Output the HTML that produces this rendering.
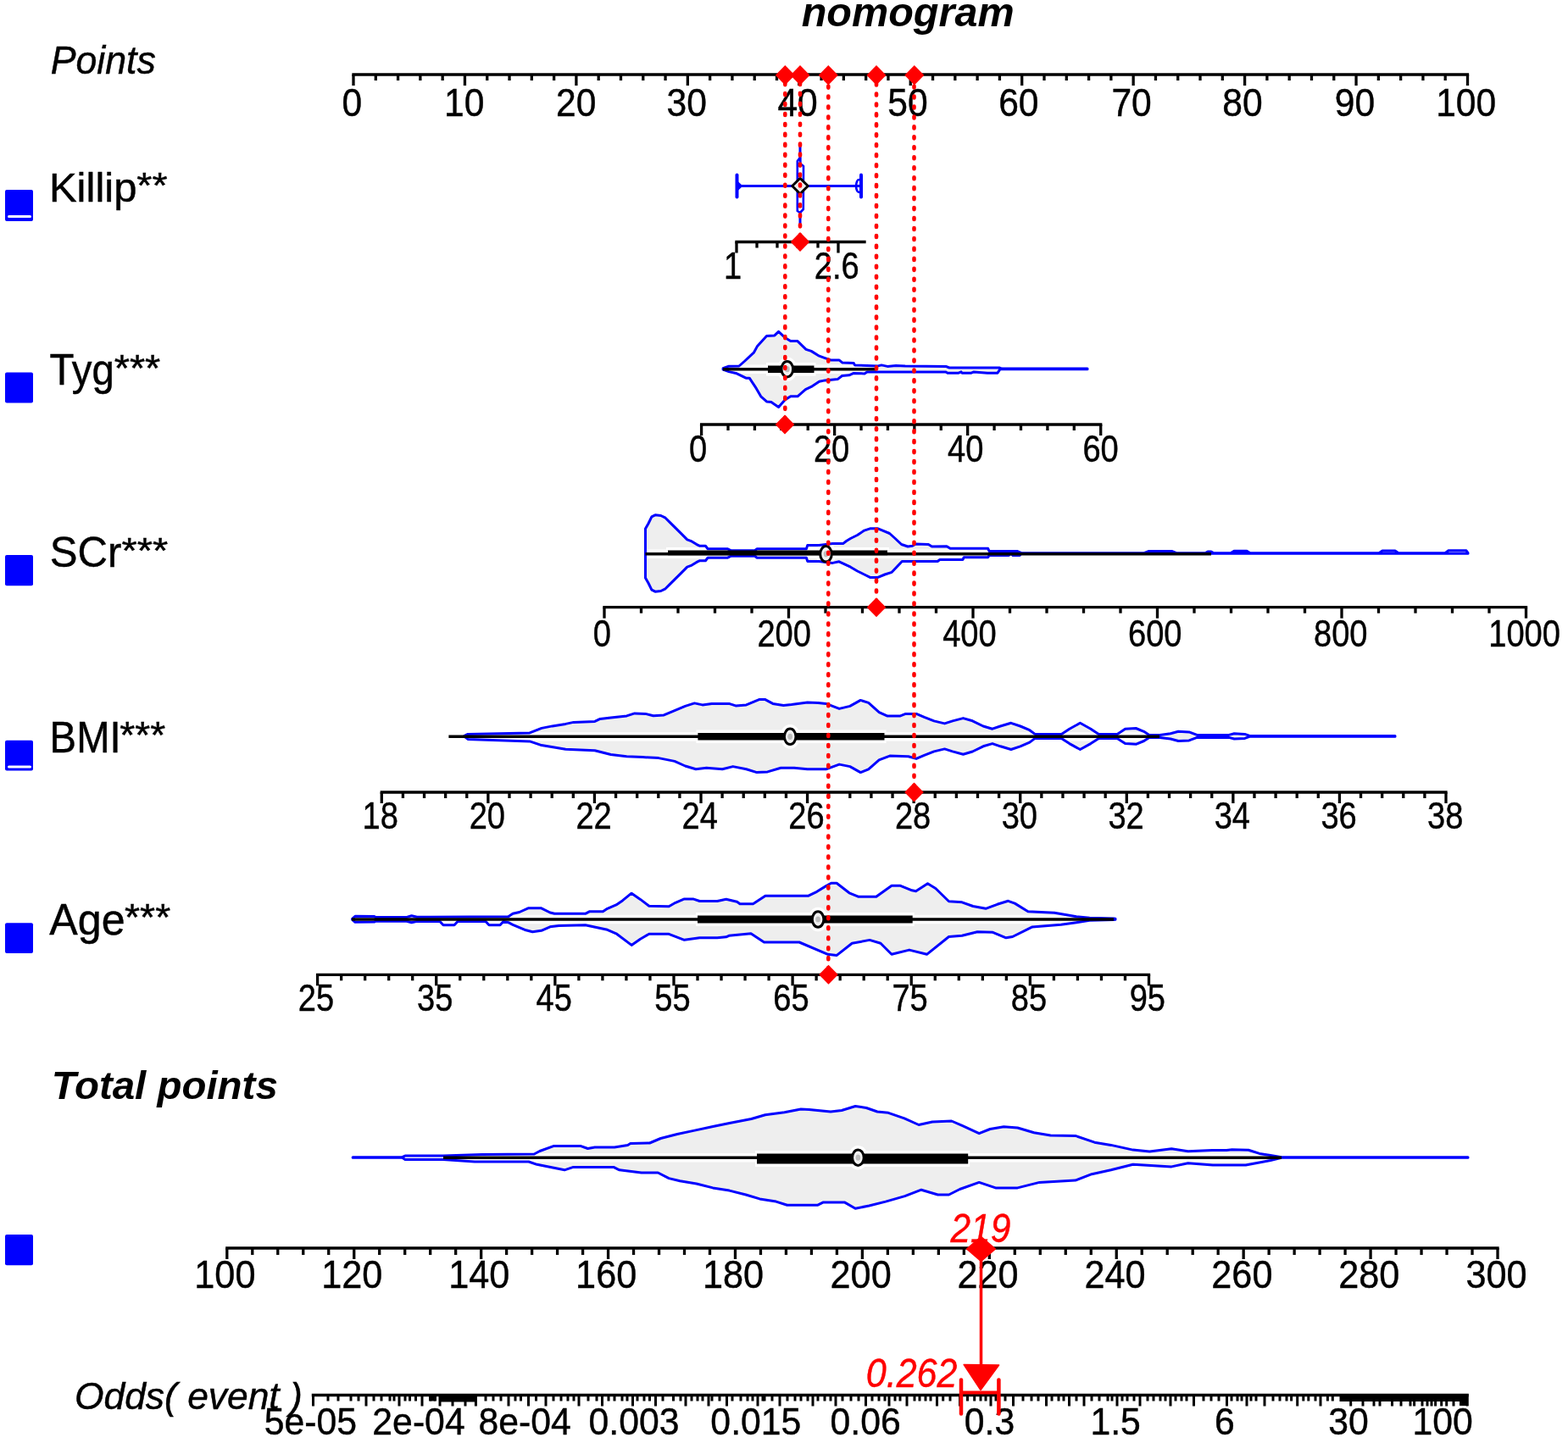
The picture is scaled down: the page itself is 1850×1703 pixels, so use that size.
<!DOCTYPE html>
<html><head><meta charset="utf-8"><title>nomogram</title>
<style>html,body{margin:0;padding:0;background:#fff;overflow:hidden;} svg{display:block;}</style>
</head><body>
<svg width="1850" height="1703" viewBox="0 0 1850 1703" font-family="Liberation Sans, Arial, sans-serif">
<path d="M853.1,434.7 L859.9,432.2 L872,432 L878.8,426 L889.6,415.8 L893.6,408.4 L904.5,396.4 L913.9,395.9 L918.6,391.4 L926.1,398.4 L932.8,402.6 L941,402.6 L951,412.4 L957.2,414.4 L966.6,420.2 L973.4,422.6 L980.1,424.9 L990,424.9 L994,428.1 L1007.2,428.4 L1008.5,430.9 L1036,431.9 L1040,430.9 L1047,432.4 L1057,431.4 L1068,431.9 L1116,432.4 L1120,434 L1179,434 L1182,435.1 L1283,435.1 L1283,435.7 L1180,435.7 L1177,440.2 L1165,440.2 L1149,438.9 L1146,440.2 L1135,440.2 L1134,438.9 L1131,440.2 L1118,440.2 L1116,438.9 L1023,438.9 L1020,440.9 L1007.2,440.4 L1001.8,442.8 L993.6,443.5 L988.2,447.6 L973.4,448.9 L966.6,450.3 L957.2,456.4 L950.4,459.7 L941,467.8 L932.8,467.8 L926.1,471.9 L918.6,480.4 L909.9,474.6 L904.5,473.9 L897.7,467.8 L892.3,458.4 L884.2,446.2 L880.1,446.2 L869.3,440.8 L859.9,438.6 L853.1,436.1 Z" fill="#eeeeee" stroke="none" stroke-width="3" stroke-linejoin="round"/>
<path d="M761.5,653 L761.5,624 L764.9,618 L768.9,609.9 L773,607.8 L779.7,608.5 L785.1,611.2 L790.5,616.6 L797.3,623.4 L804.1,630.1 L810.8,636.9 L816.2,638.9 L821.6,642.3 L825.7,644.3 L832.4,644.3 L835.1,647.7 L858.1,647.7 L862.2,649.7 L890.5,649.7 L893.2,647.7 L951.4,647.7 L952.7,643.6 L966.2,643.6 L982.4,641.6 L994.6,641.6 L998.6,638.5 L1003.5,635.5 L1011.6,631.5 L1019.7,626.1 L1026.5,623.8 L1035.9,623.8 L1041.4,626.1 L1049.5,629.5 L1056.2,635.5 L1063.6,642.5 L1071.1,645 L1076.5,644.3 L1080.5,642 L1095.4,642.5 L1099.5,645 L1117,644.7 L1121.1,647.3 L1165.7,647.3 L1167,650.4 L1200,650.4 L1205,652.7 L1350,652.7 L1355,650.5 L1383,650.5 L1388,652.7 L1422,652.7 L1425,651 L1429,651 L1432,652.7 L1452,652.7 L1456,650.2 L1471,650.2 L1475,652.7 L1627,652.7 L1631,650 L1646,650 L1650,652.7 L1705,652.7 L1709,649.8 L1730,649.8 L1732,652.7 L1732,653.3 L1205,653.3 L1203,655.6 L1195,655.6 L1193,653.3 L1190,655.6 L1167,655.6 L1165.7,657.8 L1137.3,657.8 L1135.9,660.5 L1108.9,660.5 L1106.2,662.5 L1064.3,662.5 L1052.2,675.3 L1044,678 L1035.9,681.4 L1026.5,681.4 L1019.7,678 L1011.6,674 L1003.5,669.2 L990,662.8 L982.4,664.4 L966.2,662.4 L952.7,662.4 L951.4,658.3 L893.2,658.3 L890.5,656.3 L862.2,656.3 L858.1,658.3 L835.1,658.3 L832.4,661.7 L825.7,661.7 L821.6,663.7 L816.2,667.1 L810.8,669.1 L804.1,675.9 L797.3,682.6 L790.5,689.4 L785.1,694.8 L779.7,697.5 L773,698.2 L768.9,696.1 L764.9,688 L761.5,682 L761.5,653 Z" fill="#eeeeee" stroke="none" stroke-width="3" stroke-linejoin="round"/>
<path d="M548,868.4 L552,866.4 L625,864.9 L639,859.4 L651.7,856.9 L667.3,854.4 L676.7,852.4 L701.8,851.4 L708,848.4 L720.6,846.9 L739.4,844.9 L748.8,841.9 L761.4,842.4 L770.8,844.7 L783.3,843.9 L795.9,838.6 L808.4,833.4 L819.4,829.9 L828.8,831.9 L839.7,830.4 L860.1,830.4 L868,832.9 L880.5,831.9 L896.2,825.4 L902.4,825.4 L911.8,830.4 L924.4,832.4 L933.8,831.4 L952.6,828.9 L965.1,829.4 L974.5,830.4 L990.2,836.4 L1002.8,833.4 L1015.3,826.4 L1024.7,829.4 L1037.2,840.6 L1046.6,844.9 L1062.3,844.9 L1068.6,842.4 L1081.1,842.4 L1090.5,846.4 L1102,850.9 L1114.5,853.9 L1123.9,850.9 L1136.4,847.6 L1147.4,850.8 L1160,857 L1170.9,860.2 L1180.3,857 L1192.9,853.3 L1203.8,857 L1214.8,861.7 L1221.1,866.4 L1252.4,866.4 L1261.8,860.2 L1274.4,853.3 L1286.9,860.2 L1296.3,866.4 L1318.2,866.4 L1327.6,860.2 L1340.2,859.5 L1349.6,863.3 L1355.9,867.4 L1368.4,867.4 L1381,865.8 L1390.3,863.3 L1402.9,863.9 L1412.3,867.4 L1449.9,867.4 L1456.2,865.8 L1468.7,866.4 L1475,868.6 L1646,868.6 L1646,869.2 L1475,869.2 L1468.7,871.4 L1456.2,872 L1449.9,870.4 L1412.3,870.4 L1402.9,873.9 L1390.3,874.5 L1381,872 L1368.4,870.4 L1355.9,870.4 L1349.6,874.5 L1340.2,878.3 L1327.6,877.6 L1318.2,871.4 L1296.3,871.4 L1286.9,877.6 L1274.4,884.5 L1261.8,877.6 L1252.4,871.4 L1221.1,871.4 L1214.8,876.1 L1203.8,880.8 L1192.9,884.5 L1180.3,880.8 L1170.9,877.6 L1160,880.8 L1147.4,887 L1136.4,890.2 L1123.9,886.9 L1114.5,883.9 L1102,886.9 L1090.5,891.4 L1081.1,895.4 L1071.7,892.7 L1049.8,892.1 L1037.2,896.8 L1024.7,907.8 L1015.3,911.6 L1002.8,904.6 L990.2,902.1 L974.5,907.8 L952.6,907.8 L937,906.2 L921.3,906.2 L905.6,910.9 L893,911.6 L880.5,907.8 L864.8,904.6 L852.3,907.8 L833.5,906.2 L821,907.8 L808.4,904 L795.9,898.4 L777,894.6 L758.2,893.6 L739.4,892.7 L720.6,890.5 L701.8,885.8 L667.3,884.3 L639,879.6 L625,874.9 L552,872.4 L548,869.4 Z" fill="#eeeeee" stroke="none" stroke-width="3" stroke-linejoin="round"/>
<path d="M415.6,1084.3 L419,1081.3 L441.5,1081.5 L443,1082.4 L480,1082.4 L485.6,1080.8 L492,1082.2 L599.8,1081.8 L605,1078.3 L612.8,1076.5 L623.1,1071.8 L638.7,1071.8 L649,1077 L654.3,1078.3 L690.6,1078.3 L695.8,1075.7 L711.4,1075.7 L716.6,1072.3 L727,1067.9 L734.7,1062.7 L745.1,1054.2 L755.5,1061.4 L765.8,1069.2 L789.2,1069.7 L797,1065.3 L807.4,1060.9 L817.7,1060.9 L825.5,1063.5 L846.3,1063.5 L856.7,1061.3 L869.6,1064.3 L873,1066.8 L888.5,1066.8 L903,1057.3 L953.4,1057.3 L963.8,1052.3 L974.2,1045.9 L980.7,1042.3 L987.1,1042.3 L1002,1053.8 L1013.1,1058.3 L1033.8,1058.3 L1052,1045.3 L1062.4,1045.3 L1076,1050.8 L1080.6,1051.8 L1094.5,1042.8 L1103.9,1048.5 L1119.5,1063.8 L1135,1064.8 L1148,1069.5 L1163,1072.3 L1176.6,1067.3 L1189.5,1063.3 L1197.3,1066.1 L1212.9,1075.7 L1244,1077.3 L1257,1079.6 L1270,1081.8 L1285.5,1083.3 L1314,1084 L1316,1084.3 L1316,1085.3 L1314,1085.6 L1285.5,1086.3 L1270,1088.7 L1251.8,1091.3 L1218,1093.9 L1194.7,1105.5 L1187,1106.8 L1171.4,1100.3 L1153.2,1099.8 L1135,1104.3 L1119.5,1105.5 L1093.5,1126.3 L1072.8,1121.1 L1052,1126.3 L1039,1113.3 L1026,1109.4 L1005.3,1113.3 L987,1127.6 L976.8,1126.3 L943,1112 L901.5,1112 L886,1101.7 L860,1104.3 L856.7,1105.8 L846.3,1106.8 L825.5,1106.8 L807.4,1109.3 L797,1105.3 L789.2,1102.3 L765.8,1102.3 L755.5,1108.2 L745.1,1115.4 L727,1101.8 L716.6,1097.3 L690.6,1091.8 L659.5,1092.6 L649,1093.8 L638.7,1098.3 L628.3,1099.8 L620.5,1097.8 L605,1091.3 L599.8,1088.7 L594,1087.4 L590,1091.8 L577,1091.8 L573,1087.4 L540,1087.4 L536,1091.8 L523,1091.8 L519,1087.4 L492,1087.4 L485.6,1088.8 L480,1087.2 L443,1087.2 L441.5,1088.1 L419,1088.3 L415.6,1085.3 Z" fill="#eeeeee" stroke="none" stroke-width="3" stroke-linejoin="round"/>
<path d="M416.2,1365.7 L474.6,1365.7 L478,1364 L523,1364 L568.7,1362.5 L630.3,1362 L636.8,1358.5 L653,1352.6 L685.4,1352.6 L693.5,1355.5 L701.7,1354 L725,1354 L740.6,1351.5 L743.8,1349.5 L766.5,1349 L779.5,1343.5 L799,1338.5 L818.4,1334.4 L841.1,1329.5 L860.6,1325.5 L886.5,1320.5 L902.8,1315.7 L925.5,1312.7 L944.9,1309 L954.7,1309.5 L980,1312 L993,1310.5 L1009.2,1305.5 L1022.2,1307.5 L1035.1,1312 L1048.1,1313.3 L1067,1319.8 L1084,1327.5 L1100,1324 L1122.7,1323 L1135.7,1328.7 L1155.2,1337.7 L1168.1,1332.5 L1184.3,1329.8 L1200.6,1331 L1220,1336.8 L1239.5,1340 L1268.7,1340.4 L1291.4,1348.2 L1310.8,1351.4 L1336.8,1357.1 L1356.3,1359 L1382.2,1355.8 L1401.7,1358.7 L1430,1357.5 L1447.1,1357.5 L1453.6,1356.8 L1473,1357.2 L1486,1361.4 L1499,1363.6 L1512,1365.7 L1732,1365.7 L1732,1366.3 L1512,1366.3 L1499,1369.5 L1469.8,1375 L1430.9,1375 L1401.7,1372.7 L1382.2,1376.9 L1336.8,1374.3 L1310.8,1380.8 L1288.1,1385.7 L1268.7,1393.1 L1226.5,1395.4 L1200.6,1401.9 L1174.6,1401.9 L1155.2,1395.4 L1132.4,1403.5 L1119.5,1410 L1106.5,1410 L1087,1404.2 L1067.6,1411.6 L1044.9,1418.1 L1025.4,1423 L1009.2,1426.2 L996.8,1419.1 L970.9,1419.1 L964.4,1422.3 L928.7,1422.3 L915.7,1418.1 L896.3,1414.9 L880,1410 L860.6,1405.1 L841.1,1401.9 L821.7,1397 L802.2,1393.8 L789.2,1390.6 L776.3,1384 L756.8,1384 L730.8,1380.8 L724.4,1377.6 L675.7,1377.6 L666,1380.8 L633.5,1374.3 L623.8,1371 L581.6,1371 L560,1371 L523,1368.5 L478,1368.5 L474.6,1366.3 L416.2,1366.3 Z" fill="#eeeeee" stroke="none" stroke-width="3" stroke-linejoin="round"/>
<line x1="853" y1="435.7" x2="1034" y2="435.7" stroke="#fff" stroke-width="10.6" stroke-linecap="butt" />
<line x1="904" y1="435.7" x2="962.5" y2="435.7" stroke="#fff" stroke-width="15.6" stroke-linecap="butt" />
<ellipse cx="928.8" cy="435.7" rx="6.8" ry="9.2" fill="#fff" stroke="#fff" stroke-width="10.0"/>
<line x1="761.5" y1="653.8" x2="1429" y2="653.8" stroke="#fff" stroke-width="10.6" stroke-linecap="butt" />
<line x1="786" y1="652.4" x2="1049" y2="652.4" stroke="#fff" stroke-width="12.6" stroke-linecap="butt" />
<ellipse cx="974.5" cy="653.8" rx="6.8" ry="9.2" fill="#fff" stroke="#fff" stroke-width="10.0"/>
<line x1="529.4" y1="869.3" x2="1368" y2="869.3" stroke="#fff" stroke-width="10.6" stroke-linecap="butt" />
<line x1="821.4" y1="869.3" x2="1045.5" y2="869.3" stroke="#fff" stroke-width="15.6" stroke-linecap="butt" />
<ellipse cx="932.2" cy="869.3" rx="6.8" ry="9.2" fill="#fff" stroke="#fff" stroke-width="10.0"/>
<line x1="415" y1="1085" x2="1314" y2="1085" stroke="#fff" stroke-width="10.6" stroke-linecap="butt" />
<line x1="821" y1="1085" x2="1078.7" y2="1085" stroke="#fff" stroke-width="15.8" stroke-linecap="butt" />
<ellipse cx="965.1" cy="1085" rx="6.8" ry="9.2" fill="#fff" stroke="#fff" stroke-width="10.0"/>
<line x1="523" y1="1366.2" x2="1512" y2="1366.2" stroke="#fff" stroke-width="10.6" stroke-linecap="butt" />
<line x1="891" y1="1367.4" x2="1144.2" y2="1367.4" stroke="#fff" stroke-width="19.0" stroke-linecap="butt" />
<ellipse cx="1012.4" cy="1366.2" rx="6.8" ry="9.2" fill="#fff" stroke="#fff" stroke-width="10.0"/>
<path d="M853.1,434.7 L859.9,432.2 L872,432 L878.8,426 L889.6,415.8 L893.6,408.4 L904.5,396.4 L913.9,395.9 L918.6,391.4 L926.1,398.4 L932.8,402.6 L941,402.6 L951,412.4 L957.2,414.4 L966.6,420.2 L973.4,422.6 L980.1,424.9 L990,424.9 L994,428.1 L1007.2,428.4 L1008.5,430.9 L1036,431.9 L1040,430.9 L1047,432.4 L1057,431.4 L1068,431.9 L1116,432.4 L1120,434 L1179,434 L1182,435.1 L1283,435.1 L1283,435.7 L1180,435.7 L1177,440.2 L1165,440.2 L1149,438.9 L1146,440.2 L1135,440.2 L1134,438.9 L1131,440.2 L1118,440.2 L1116,438.9 L1023,438.9 L1020,440.9 L1007.2,440.4 L1001.8,442.8 L993.6,443.5 L988.2,447.6 L973.4,448.9 L966.6,450.3 L957.2,456.4 L950.4,459.7 L941,467.8 L932.8,467.8 L926.1,471.9 L918.6,480.4 L909.9,474.6 L904.5,473.9 L897.7,467.8 L892.3,458.4 L884.2,446.2 L880.1,446.2 L869.3,440.8 L859.9,438.6 L853.1,436.1 Z" fill="none" stroke="#0000ff" stroke-width="3" stroke-linejoin="round"/>
<path d="M761.5,653 L761.5,624 L764.9,618 L768.9,609.9 L773,607.8 L779.7,608.5 L785.1,611.2 L790.5,616.6 L797.3,623.4 L804.1,630.1 L810.8,636.9 L816.2,638.9 L821.6,642.3 L825.7,644.3 L832.4,644.3 L835.1,647.7 L858.1,647.7 L862.2,649.7 L890.5,649.7 L893.2,647.7 L951.4,647.7 L952.7,643.6 L966.2,643.6 L982.4,641.6 L994.6,641.6 L998.6,638.5 L1003.5,635.5 L1011.6,631.5 L1019.7,626.1 L1026.5,623.8 L1035.9,623.8 L1041.4,626.1 L1049.5,629.5 L1056.2,635.5 L1063.6,642.5 L1071.1,645 L1076.5,644.3 L1080.5,642 L1095.4,642.5 L1099.5,645 L1117,644.7 L1121.1,647.3 L1165.7,647.3 L1167,650.4 L1200,650.4 L1205,652.7 L1350,652.7 L1355,650.5 L1383,650.5 L1388,652.7 L1422,652.7 L1425,651 L1429,651 L1432,652.7 L1452,652.7 L1456,650.2 L1471,650.2 L1475,652.7 L1627,652.7 L1631,650 L1646,650 L1650,652.7 L1705,652.7 L1709,649.8 L1730,649.8 L1732,652.7 L1732,653.3 L1205,653.3 L1203,655.6 L1195,655.6 L1193,653.3 L1190,655.6 L1167,655.6 L1165.7,657.8 L1137.3,657.8 L1135.9,660.5 L1108.9,660.5 L1106.2,662.5 L1064.3,662.5 L1052.2,675.3 L1044,678 L1035.9,681.4 L1026.5,681.4 L1019.7,678 L1011.6,674 L1003.5,669.2 L990,662.8 L982.4,664.4 L966.2,662.4 L952.7,662.4 L951.4,658.3 L893.2,658.3 L890.5,656.3 L862.2,656.3 L858.1,658.3 L835.1,658.3 L832.4,661.7 L825.7,661.7 L821.6,663.7 L816.2,667.1 L810.8,669.1 L804.1,675.9 L797.3,682.6 L790.5,689.4 L785.1,694.8 L779.7,697.5 L773,698.2 L768.9,696.1 L764.9,688 L761.5,682 L761.5,653 Z" fill="none" stroke="#0000ff" stroke-width="3" stroke-linejoin="round"/>
<path d="M548,868.4 L552,866.4 L625,864.9 L639,859.4 L651.7,856.9 L667.3,854.4 L676.7,852.4 L701.8,851.4 L708,848.4 L720.6,846.9 L739.4,844.9 L748.8,841.9 L761.4,842.4 L770.8,844.7 L783.3,843.9 L795.9,838.6 L808.4,833.4 L819.4,829.9 L828.8,831.9 L839.7,830.4 L860.1,830.4 L868,832.9 L880.5,831.9 L896.2,825.4 L902.4,825.4 L911.8,830.4 L924.4,832.4 L933.8,831.4 L952.6,828.9 L965.1,829.4 L974.5,830.4 L990.2,836.4 L1002.8,833.4 L1015.3,826.4 L1024.7,829.4 L1037.2,840.6 L1046.6,844.9 L1062.3,844.9 L1068.6,842.4 L1081.1,842.4 L1090.5,846.4 L1102,850.9 L1114.5,853.9 L1123.9,850.9 L1136.4,847.6 L1147.4,850.8 L1160,857 L1170.9,860.2 L1180.3,857 L1192.9,853.3 L1203.8,857 L1214.8,861.7 L1221.1,866.4 L1252.4,866.4 L1261.8,860.2 L1274.4,853.3 L1286.9,860.2 L1296.3,866.4 L1318.2,866.4 L1327.6,860.2 L1340.2,859.5 L1349.6,863.3 L1355.9,867.4 L1368.4,867.4 L1381,865.8 L1390.3,863.3 L1402.9,863.9 L1412.3,867.4 L1449.9,867.4 L1456.2,865.8 L1468.7,866.4 L1475,868.6 L1646,868.6 L1646,869.2 L1475,869.2 L1468.7,871.4 L1456.2,872 L1449.9,870.4 L1412.3,870.4 L1402.9,873.9 L1390.3,874.5 L1381,872 L1368.4,870.4 L1355.9,870.4 L1349.6,874.5 L1340.2,878.3 L1327.6,877.6 L1318.2,871.4 L1296.3,871.4 L1286.9,877.6 L1274.4,884.5 L1261.8,877.6 L1252.4,871.4 L1221.1,871.4 L1214.8,876.1 L1203.8,880.8 L1192.9,884.5 L1180.3,880.8 L1170.9,877.6 L1160,880.8 L1147.4,887 L1136.4,890.2 L1123.9,886.9 L1114.5,883.9 L1102,886.9 L1090.5,891.4 L1081.1,895.4 L1071.7,892.7 L1049.8,892.1 L1037.2,896.8 L1024.7,907.8 L1015.3,911.6 L1002.8,904.6 L990.2,902.1 L974.5,907.8 L952.6,907.8 L937,906.2 L921.3,906.2 L905.6,910.9 L893,911.6 L880.5,907.8 L864.8,904.6 L852.3,907.8 L833.5,906.2 L821,907.8 L808.4,904 L795.9,898.4 L777,894.6 L758.2,893.6 L739.4,892.7 L720.6,890.5 L701.8,885.8 L667.3,884.3 L639,879.6 L625,874.9 L552,872.4 L548,869.4 Z" fill="none" stroke="#0000ff" stroke-width="3" stroke-linejoin="round"/>
<path d="M415.6,1084.3 L419,1081.3 L441.5,1081.5 L443,1082.4 L480,1082.4 L485.6,1080.8 L492,1082.2 L599.8,1081.8 L605,1078.3 L612.8,1076.5 L623.1,1071.8 L638.7,1071.8 L649,1077 L654.3,1078.3 L690.6,1078.3 L695.8,1075.7 L711.4,1075.7 L716.6,1072.3 L727,1067.9 L734.7,1062.7 L745.1,1054.2 L755.5,1061.4 L765.8,1069.2 L789.2,1069.7 L797,1065.3 L807.4,1060.9 L817.7,1060.9 L825.5,1063.5 L846.3,1063.5 L856.7,1061.3 L869.6,1064.3 L873,1066.8 L888.5,1066.8 L903,1057.3 L953.4,1057.3 L963.8,1052.3 L974.2,1045.9 L980.7,1042.3 L987.1,1042.3 L1002,1053.8 L1013.1,1058.3 L1033.8,1058.3 L1052,1045.3 L1062.4,1045.3 L1076,1050.8 L1080.6,1051.8 L1094.5,1042.8 L1103.9,1048.5 L1119.5,1063.8 L1135,1064.8 L1148,1069.5 L1163,1072.3 L1176.6,1067.3 L1189.5,1063.3 L1197.3,1066.1 L1212.9,1075.7 L1244,1077.3 L1257,1079.6 L1270,1081.8 L1285.5,1083.3 L1314,1084 L1316,1084.3 L1316,1085.3 L1314,1085.6 L1285.5,1086.3 L1270,1088.7 L1251.8,1091.3 L1218,1093.9 L1194.7,1105.5 L1187,1106.8 L1171.4,1100.3 L1153.2,1099.8 L1135,1104.3 L1119.5,1105.5 L1093.5,1126.3 L1072.8,1121.1 L1052,1126.3 L1039,1113.3 L1026,1109.4 L1005.3,1113.3 L987,1127.6 L976.8,1126.3 L943,1112 L901.5,1112 L886,1101.7 L860,1104.3 L856.7,1105.8 L846.3,1106.8 L825.5,1106.8 L807.4,1109.3 L797,1105.3 L789.2,1102.3 L765.8,1102.3 L755.5,1108.2 L745.1,1115.4 L727,1101.8 L716.6,1097.3 L690.6,1091.8 L659.5,1092.6 L649,1093.8 L638.7,1098.3 L628.3,1099.8 L620.5,1097.8 L605,1091.3 L599.8,1088.7 L594,1087.4 L590,1091.8 L577,1091.8 L573,1087.4 L540,1087.4 L536,1091.8 L523,1091.8 L519,1087.4 L492,1087.4 L485.6,1088.8 L480,1087.2 L443,1087.2 L441.5,1088.1 L419,1088.3 L415.6,1085.3 Z" fill="none" stroke="#0000ff" stroke-width="3" stroke-linejoin="round"/>
<path d="M416.2,1365.7 L474.6,1365.7 L478,1364 L523,1364 L568.7,1362.5 L630.3,1362 L636.8,1358.5 L653,1352.6 L685.4,1352.6 L693.5,1355.5 L701.7,1354 L725,1354 L740.6,1351.5 L743.8,1349.5 L766.5,1349 L779.5,1343.5 L799,1338.5 L818.4,1334.4 L841.1,1329.5 L860.6,1325.5 L886.5,1320.5 L902.8,1315.7 L925.5,1312.7 L944.9,1309 L954.7,1309.5 L980,1312 L993,1310.5 L1009.2,1305.5 L1022.2,1307.5 L1035.1,1312 L1048.1,1313.3 L1067,1319.8 L1084,1327.5 L1100,1324 L1122.7,1323 L1135.7,1328.7 L1155.2,1337.7 L1168.1,1332.5 L1184.3,1329.8 L1200.6,1331 L1220,1336.8 L1239.5,1340 L1268.7,1340.4 L1291.4,1348.2 L1310.8,1351.4 L1336.8,1357.1 L1356.3,1359 L1382.2,1355.8 L1401.7,1358.7 L1430,1357.5 L1447.1,1357.5 L1453.6,1356.8 L1473,1357.2 L1486,1361.4 L1499,1363.6 L1512,1365.7 L1732,1365.7 L1732,1366.3 L1512,1366.3 L1499,1369.5 L1469.8,1375 L1430.9,1375 L1401.7,1372.7 L1382.2,1376.9 L1336.8,1374.3 L1310.8,1380.8 L1288.1,1385.7 L1268.7,1393.1 L1226.5,1395.4 L1200.6,1401.9 L1174.6,1401.9 L1155.2,1395.4 L1132.4,1403.5 L1119.5,1410 L1106.5,1410 L1087,1404.2 L1067.6,1411.6 L1044.9,1418.1 L1025.4,1423 L1009.2,1426.2 L996.8,1419.1 L970.9,1419.1 L964.4,1422.3 L928.7,1422.3 L915.7,1418.1 L896.3,1414.9 L880,1410 L860.6,1405.1 L841.1,1401.9 L821.7,1397 L802.2,1393.8 L789.2,1390.6 L776.3,1384 L756.8,1384 L730.8,1380.8 L724.4,1377.6 L675.7,1377.6 L666,1380.8 L633.5,1374.3 L623.8,1371 L581.6,1371 L560,1371 L523,1368.5 L478,1368.5 L474.6,1366.3 L416.2,1366.3 Z" fill="none" stroke="#0000ff" stroke-width="3" stroke-linejoin="round"/>
<line x1="853" y1="435.7" x2="1034" y2="435.7" stroke="#000" stroke-width="3.6" stroke-linecap="butt" />
<line x1="906" y1="435.7" x2="960.5" y2="435.7" stroke="#000" stroke-width="8.6" stroke-linecap="butt" />
<ellipse cx="928.8" cy="435.7" rx="6.8" ry="9.2" fill="#f2f2f2" stroke="#000" stroke-width="3"/>
<ellipse cx="928.8" cy="435.7" rx="2.8" ry="3.6" fill="#bdbdbd"/>
<line x1="761.5" y1="653.8" x2="1429" y2="653.8" stroke="#000" stroke-width="3.6" stroke-linecap="butt" />
<line x1="788" y1="652.4" x2="1047" y2="652.4" stroke="#000" stroke-width="5.6" stroke-linecap="butt" />
<ellipse cx="974.5" cy="653.8" rx="6.8" ry="9.2" fill="#f2f2f2" stroke="#000" stroke-width="3"/>
<ellipse cx="974.5" cy="653.8" rx="2.8" ry="3.6" fill="#bdbdbd"/>
<line x1="529.4" y1="869.3" x2="1368" y2="869.3" stroke="#000" stroke-width="3.6" stroke-linecap="butt" />
<line x1="823.4" y1="869.3" x2="1043.5" y2="869.3" stroke="#000" stroke-width="8.6" stroke-linecap="butt" />
<ellipse cx="932.2" cy="869.3" rx="6.8" ry="9.2" fill="#f2f2f2" stroke="#000" stroke-width="3"/>
<ellipse cx="932.2" cy="869.3" rx="2.8" ry="3.6" fill="#bdbdbd"/>
<line x1="415" y1="1085" x2="1314" y2="1085" stroke="#000" stroke-width="3.6" stroke-linecap="butt" />
<line x1="823" y1="1085" x2="1076.7" y2="1085" stroke="#000" stroke-width="8.8" stroke-linecap="butt" />
<ellipse cx="965.1" cy="1085" rx="6.8" ry="9.2" fill="#f2f2f2" stroke="#000" stroke-width="3"/>
<ellipse cx="965.1" cy="1085" rx="2.8" ry="3.6" fill="#bdbdbd"/>
<line x1="523" y1="1366.2" x2="1512" y2="1366.2" stroke="#000" stroke-width="3.6" stroke-linecap="butt" />
<line x1="893" y1="1367.4" x2="1142.2" y2="1367.4" stroke="#000" stroke-width="12" stroke-linecap="butt" />
<ellipse cx="1012.4" cy="1366.2" rx="6.8" ry="9.2" fill="#f2f2f2" stroke="#000" stroke-width="3"/>
<ellipse cx="1012.4" cy="1366.2" rx="2.8" ry="3.6" fill="#bdbdbd"/>
<line x1="869" y1="219.5" x2="1016" y2="219.5" stroke="#0000ff" stroke-width="3" stroke-linecap="butt" />
<line x1="869.5" y1="206.5" x2="869.5" y2="232.5" stroke="#0000ff" stroke-width="4" stroke-linecap="round" />
<path d="M869,212.5 L876.5,219.5 L869,226.5 Z" fill="#0000ff" stroke="none" stroke-width="3" stroke-linejoin="round"/>
<line x1="1016" y1="206.5" x2="1016" y2="232.5" stroke="#0000ff" stroke-width="4" stroke-linecap="round" />
<ellipse cx="1013.3" cy="219.5" rx="3.2" ry="7.5" fill="none" stroke="#0000ff" stroke-width="2.6"/>
<line x1="944" y1="172" x2="944" y2="264" stroke="#0000ff" stroke-width="3" stroke-linecap="butt" />
<path d="M944,186 L940.8,190 L940.8,249 L944,251 L947.8,247 L948,196 L944,193 Z" fill="#ffffff" stroke="#0000ff" stroke-width="2.6" stroke-linejoin="round"/>
<path d="M944,210.2 L953.3,219.5 L944,228.8 L934.7,219.5 Z" fill="#ececec" stroke="#000" stroke-width="3" stroke-linejoin="round"/>
<line x1="417" y1="88" x2="1731.5" y2="88" stroke="#000" stroke-width="3.3" stroke-linecap="square" />
<line x1="417" y1="88" x2="417" y2="101" stroke="#000" stroke-width="3.3" stroke-linecap="butt" />
<line x1="443.29" y1="88" x2="443.29" y2="95" stroke="#000" stroke-width="3.3" stroke-linecap="butt" />
<line x1="469.58" y1="88" x2="469.58" y2="95" stroke="#000" stroke-width="3.3" stroke-linecap="butt" />
<line x1="495.87" y1="88" x2="495.87" y2="95" stroke="#000" stroke-width="3.3" stroke-linecap="butt" />
<line x1="522.16" y1="88" x2="522.16" y2="95" stroke="#000" stroke-width="3.3" stroke-linecap="butt" />
<line x1="548.45" y1="88" x2="548.45" y2="101" stroke="#000" stroke-width="3.3" stroke-linecap="butt" />
<line x1="574.74" y1="88" x2="574.74" y2="95" stroke="#000" stroke-width="3.3" stroke-linecap="butt" />
<line x1="601.03" y1="88" x2="601.03" y2="95" stroke="#000" stroke-width="3.3" stroke-linecap="butt" />
<line x1="627.32" y1="88" x2="627.32" y2="95" stroke="#000" stroke-width="3.3" stroke-linecap="butt" />
<line x1="653.61" y1="88" x2="653.61" y2="95" stroke="#000" stroke-width="3.3" stroke-linecap="butt" />
<line x1="679.9" y1="88" x2="679.9" y2="101" stroke="#000" stroke-width="3.3" stroke-linecap="butt" />
<line x1="706.19" y1="88" x2="706.19" y2="95" stroke="#000" stroke-width="3.3" stroke-linecap="butt" />
<line x1="732.48" y1="88" x2="732.48" y2="95" stroke="#000" stroke-width="3.3" stroke-linecap="butt" />
<line x1="758.77" y1="88" x2="758.77" y2="95" stroke="#000" stroke-width="3.3" stroke-linecap="butt" />
<line x1="785.06" y1="88" x2="785.06" y2="95" stroke="#000" stroke-width="3.3" stroke-linecap="butt" />
<line x1="811.35" y1="88" x2="811.35" y2="101" stroke="#000" stroke-width="3.3" stroke-linecap="butt" />
<line x1="837.64" y1="88" x2="837.64" y2="95" stroke="#000" stroke-width="3.3" stroke-linecap="butt" />
<line x1="863.93" y1="88" x2="863.93" y2="95" stroke="#000" stroke-width="3.3" stroke-linecap="butt" />
<line x1="890.22" y1="88" x2="890.22" y2="95" stroke="#000" stroke-width="3.3" stroke-linecap="butt" />
<line x1="916.51" y1="88" x2="916.51" y2="95" stroke="#000" stroke-width="3.3" stroke-linecap="butt" />
<line x1="942.8" y1="88" x2="942.8" y2="101" stroke="#000" stroke-width="3.3" stroke-linecap="butt" />
<line x1="969.09" y1="88" x2="969.09" y2="95" stroke="#000" stroke-width="3.3" stroke-linecap="butt" />
<line x1="995.38" y1="88" x2="995.38" y2="95" stroke="#000" stroke-width="3.3" stroke-linecap="butt" />
<line x1="1021.67" y1="88" x2="1021.67" y2="95" stroke="#000" stroke-width="3.3" stroke-linecap="butt" />
<line x1="1047.96" y1="88" x2="1047.96" y2="95" stroke="#000" stroke-width="3.3" stroke-linecap="butt" />
<line x1="1074.25" y1="88" x2="1074.25" y2="101" stroke="#000" stroke-width="3.3" stroke-linecap="butt" />
<line x1="1100.54" y1="88" x2="1100.54" y2="95" stroke="#000" stroke-width="3.3" stroke-linecap="butt" />
<line x1="1126.83" y1="88" x2="1126.83" y2="95" stroke="#000" stroke-width="3.3" stroke-linecap="butt" />
<line x1="1153.12" y1="88" x2="1153.12" y2="95" stroke="#000" stroke-width="3.3" stroke-linecap="butt" />
<line x1="1179.41" y1="88" x2="1179.41" y2="95" stroke="#000" stroke-width="3.3" stroke-linecap="butt" />
<line x1="1205.7" y1="88" x2="1205.7" y2="101" stroke="#000" stroke-width="3.3" stroke-linecap="butt" />
<line x1="1231.99" y1="88" x2="1231.99" y2="95" stroke="#000" stroke-width="3.3" stroke-linecap="butt" />
<line x1="1258.28" y1="88" x2="1258.28" y2="95" stroke="#000" stroke-width="3.3" stroke-linecap="butt" />
<line x1="1284.57" y1="88" x2="1284.57" y2="95" stroke="#000" stroke-width="3.3" stroke-linecap="butt" />
<line x1="1310.86" y1="88" x2="1310.86" y2="95" stroke="#000" stroke-width="3.3" stroke-linecap="butt" />
<line x1="1337.15" y1="88" x2="1337.15" y2="101" stroke="#000" stroke-width="3.3" stroke-linecap="butt" />
<line x1="1363.44" y1="88" x2="1363.44" y2="95" stroke="#000" stroke-width="3.3" stroke-linecap="butt" />
<line x1="1389.73" y1="88" x2="1389.73" y2="95" stroke="#000" stroke-width="3.3" stroke-linecap="butt" />
<line x1="1416.02" y1="88" x2="1416.02" y2="95" stroke="#000" stroke-width="3.3" stroke-linecap="butt" />
<line x1="1442.31" y1="88" x2="1442.31" y2="95" stroke="#000" stroke-width="3.3" stroke-linecap="butt" />
<line x1="1468.6" y1="88" x2="1468.6" y2="101" stroke="#000" stroke-width="3.3" stroke-linecap="butt" />
<line x1="1494.89" y1="88" x2="1494.89" y2="95" stroke="#000" stroke-width="3.3" stroke-linecap="butt" />
<line x1="1521.18" y1="88" x2="1521.18" y2="95" stroke="#000" stroke-width="3.3" stroke-linecap="butt" />
<line x1="1547.47" y1="88" x2="1547.47" y2="95" stroke="#000" stroke-width="3.3" stroke-linecap="butt" />
<line x1="1573.76" y1="88" x2="1573.76" y2="95" stroke="#000" stroke-width="3.3" stroke-linecap="butt" />
<line x1="1600.05" y1="88" x2="1600.05" y2="101" stroke="#000" stroke-width="3.3" stroke-linecap="butt" />
<line x1="1626.34" y1="88" x2="1626.34" y2="95" stroke="#000" stroke-width="3.3" stroke-linecap="butt" />
<line x1="1652.63" y1="88" x2="1652.63" y2="95" stroke="#000" stroke-width="3.3" stroke-linecap="butt" />
<line x1="1678.92" y1="88" x2="1678.92" y2="95" stroke="#000" stroke-width="3.3" stroke-linecap="butt" />
<line x1="1705.21" y1="88" x2="1705.21" y2="95" stroke="#000" stroke-width="3.3" stroke-linecap="butt" />
<line x1="1731.5" y1="88" x2="1731.5" y2="101" stroke="#000" stroke-width="3.3" stroke-linecap="butt" />
<line x1="869" y1="285.5" x2="1020" y2="285.5" stroke="#000" stroke-width="3.3" stroke-linecap="square" />
<line x1="869" y1="285.5" x2="869" y2="298.5" stroke="#000" stroke-width="3.3" stroke-linecap="butt" />
<line x1="893" y1="285.5" x2="893" y2="292.5" stroke="#000" stroke-width="3.3" stroke-linecap="butt" />
<line x1="917" y1="285.5" x2="917" y2="292.5" stroke="#000" stroke-width="3.3" stroke-linecap="butt" />
<line x1="941" y1="285.5" x2="941" y2="292.5" stroke="#000" stroke-width="3.3" stroke-linecap="butt" />
<line x1="965" y1="285.5" x2="965" y2="292.5" stroke="#000" stroke-width="3.3" stroke-linecap="butt" />
<line x1="989" y1="285.5" x2="989" y2="298.5" stroke="#000" stroke-width="3.3" stroke-linecap="butt" />
<line x1="827.6" y1="501" x2="1298.7" y2="501" stroke="#000" stroke-width="3.3" stroke-linecap="square" />
<line x1="827.6" y1="501" x2="827.6" y2="514" stroke="#000" stroke-width="3.3" stroke-linecap="butt" />
<line x1="859.01" y1="501" x2="859.01" y2="508" stroke="#000" stroke-width="3.3" stroke-linecap="butt" />
<line x1="890.41" y1="501" x2="890.41" y2="508" stroke="#000" stroke-width="3.3" stroke-linecap="butt" />
<line x1="921.82" y1="501" x2="921.82" y2="508" stroke="#000" stroke-width="3.3" stroke-linecap="butt" />
<line x1="953.23" y1="501" x2="953.23" y2="508" stroke="#000" stroke-width="3.3" stroke-linecap="butt" />
<line x1="984.63" y1="501" x2="984.63" y2="514" stroke="#000" stroke-width="3.3" stroke-linecap="butt" />
<line x1="1016.04" y1="501" x2="1016.04" y2="508" stroke="#000" stroke-width="3.3" stroke-linecap="butt" />
<line x1="1047.45" y1="501" x2="1047.45" y2="508" stroke="#000" stroke-width="3.3" stroke-linecap="butt" />
<line x1="1078.85" y1="501" x2="1078.85" y2="508" stroke="#000" stroke-width="3.3" stroke-linecap="butt" />
<line x1="1110.26" y1="501" x2="1110.26" y2="508" stroke="#000" stroke-width="3.3" stroke-linecap="butt" />
<line x1="1141.67" y1="501" x2="1141.67" y2="514" stroke="#000" stroke-width="3.3" stroke-linecap="butt" />
<line x1="1173.07" y1="501" x2="1173.07" y2="508" stroke="#000" stroke-width="3.3" stroke-linecap="butt" />
<line x1="1204.48" y1="501" x2="1204.48" y2="508" stroke="#000" stroke-width="3.3" stroke-linecap="butt" />
<line x1="1235.89" y1="501" x2="1235.89" y2="508" stroke="#000" stroke-width="3.3" stroke-linecap="butt" />
<line x1="1267.29" y1="501" x2="1267.29" y2="508" stroke="#000" stroke-width="3.3" stroke-linecap="butt" />
<line x1="1298.7" y1="501" x2="1298.7" y2="514" stroke="#000" stroke-width="3.3" stroke-linecap="butt" />
<line x1="713" y1="716.7" x2="1800.5" y2="716.7" stroke="#000" stroke-width="3.3" stroke-linecap="square" />
<line x1="713" y1="716.7" x2="713" y2="729.7" stroke="#000" stroke-width="3.3" stroke-linecap="butt" />
<line x1="756.5" y1="716.7" x2="756.5" y2="723.7" stroke="#000" stroke-width="3.3" stroke-linecap="butt" />
<line x1="800" y1="716.7" x2="800" y2="723.7" stroke="#000" stroke-width="3.3" stroke-linecap="butt" />
<line x1="843.5" y1="716.7" x2="843.5" y2="723.7" stroke="#000" stroke-width="3.3" stroke-linecap="butt" />
<line x1="887" y1="716.7" x2="887" y2="723.7" stroke="#000" stroke-width="3.3" stroke-linecap="butt" />
<line x1="930.5" y1="716.7" x2="930.5" y2="729.7" stroke="#000" stroke-width="3.3" stroke-linecap="butt" />
<line x1="974" y1="716.7" x2="974" y2="723.7" stroke="#000" stroke-width="3.3" stroke-linecap="butt" />
<line x1="1017.5" y1="716.7" x2="1017.5" y2="723.7" stroke="#000" stroke-width="3.3" stroke-linecap="butt" />
<line x1="1061" y1="716.7" x2="1061" y2="723.7" stroke="#000" stroke-width="3.3" stroke-linecap="butt" />
<line x1="1104.5" y1="716.7" x2="1104.5" y2="723.7" stroke="#000" stroke-width="3.3" stroke-linecap="butt" />
<line x1="1148" y1="716.7" x2="1148" y2="729.7" stroke="#000" stroke-width="3.3" stroke-linecap="butt" />
<line x1="1191.5" y1="716.7" x2="1191.5" y2="723.7" stroke="#000" stroke-width="3.3" stroke-linecap="butt" />
<line x1="1235" y1="716.7" x2="1235" y2="723.7" stroke="#000" stroke-width="3.3" stroke-linecap="butt" />
<line x1="1278.5" y1="716.7" x2="1278.5" y2="723.7" stroke="#000" stroke-width="3.3" stroke-linecap="butt" />
<line x1="1322" y1="716.7" x2="1322" y2="723.7" stroke="#000" stroke-width="3.3" stroke-linecap="butt" />
<line x1="1365.5" y1="716.7" x2="1365.5" y2="729.7" stroke="#000" stroke-width="3.3" stroke-linecap="butt" />
<line x1="1409" y1="716.7" x2="1409" y2="723.7" stroke="#000" stroke-width="3.3" stroke-linecap="butt" />
<line x1="1452.5" y1="716.7" x2="1452.5" y2="723.7" stroke="#000" stroke-width="3.3" stroke-linecap="butt" />
<line x1="1496" y1="716.7" x2="1496" y2="723.7" stroke="#000" stroke-width="3.3" stroke-linecap="butt" />
<line x1="1539.5" y1="716.7" x2="1539.5" y2="723.7" stroke="#000" stroke-width="3.3" stroke-linecap="butt" />
<line x1="1583" y1="716.7" x2="1583" y2="729.7" stroke="#000" stroke-width="3.3" stroke-linecap="butt" />
<line x1="1626.5" y1="716.7" x2="1626.5" y2="723.7" stroke="#000" stroke-width="3.3" stroke-linecap="butt" />
<line x1="1670" y1="716.7" x2="1670" y2="723.7" stroke="#000" stroke-width="3.3" stroke-linecap="butt" />
<line x1="1713.5" y1="716.7" x2="1713.5" y2="723.7" stroke="#000" stroke-width="3.3" stroke-linecap="butt" />
<line x1="1757" y1="716.7" x2="1757" y2="723.7" stroke="#000" stroke-width="3.3" stroke-linecap="butt" />
<line x1="1800.5" y1="716.7" x2="1800.5" y2="729.7" stroke="#000" stroke-width="3.3" stroke-linecap="butt" />
<line x1="450.3" y1="935" x2="1706" y2="935" stroke="#000" stroke-width="3.3" stroke-linecap="square" />
<line x1="450.3" y1="935" x2="450.3" y2="948" stroke="#000" stroke-width="3.3" stroke-linecap="butt" />
<line x1="475.41" y1="935" x2="475.41" y2="942" stroke="#000" stroke-width="3.3" stroke-linecap="butt" />
<line x1="500.53" y1="935" x2="500.53" y2="942" stroke="#000" stroke-width="3.3" stroke-linecap="butt" />
<line x1="525.64" y1="935" x2="525.64" y2="942" stroke="#000" stroke-width="3.3" stroke-linecap="butt" />
<line x1="550.76" y1="935" x2="550.76" y2="942" stroke="#000" stroke-width="3.3" stroke-linecap="butt" />
<line x1="575.87" y1="935" x2="575.87" y2="948" stroke="#000" stroke-width="3.3" stroke-linecap="butt" />
<line x1="600.98" y1="935" x2="600.98" y2="942" stroke="#000" stroke-width="3.3" stroke-linecap="butt" />
<line x1="626.1" y1="935" x2="626.1" y2="942" stroke="#000" stroke-width="3.3" stroke-linecap="butt" />
<line x1="651.21" y1="935" x2="651.21" y2="942" stroke="#000" stroke-width="3.3" stroke-linecap="butt" />
<line x1="676.33" y1="935" x2="676.33" y2="942" stroke="#000" stroke-width="3.3" stroke-linecap="butt" />
<line x1="701.44" y1="935" x2="701.44" y2="948" stroke="#000" stroke-width="3.3" stroke-linecap="butt" />
<line x1="726.55" y1="935" x2="726.55" y2="942" stroke="#000" stroke-width="3.3" stroke-linecap="butt" />
<line x1="751.67" y1="935" x2="751.67" y2="942" stroke="#000" stroke-width="3.3" stroke-linecap="butt" />
<line x1="776.78" y1="935" x2="776.78" y2="942" stroke="#000" stroke-width="3.3" stroke-linecap="butt" />
<line x1="801.9" y1="935" x2="801.9" y2="942" stroke="#000" stroke-width="3.3" stroke-linecap="butt" />
<line x1="827.01" y1="935" x2="827.01" y2="948" stroke="#000" stroke-width="3.3" stroke-linecap="butt" />
<line x1="852.12" y1="935" x2="852.12" y2="942" stroke="#000" stroke-width="3.3" stroke-linecap="butt" />
<line x1="877.24" y1="935" x2="877.24" y2="942" stroke="#000" stroke-width="3.3" stroke-linecap="butt" />
<line x1="902.35" y1="935" x2="902.35" y2="942" stroke="#000" stroke-width="3.3" stroke-linecap="butt" />
<line x1="927.47" y1="935" x2="927.47" y2="942" stroke="#000" stroke-width="3.3" stroke-linecap="butt" />
<line x1="952.58" y1="935" x2="952.58" y2="948" stroke="#000" stroke-width="3.3" stroke-linecap="butt" />
<line x1="977.69" y1="935" x2="977.69" y2="942" stroke="#000" stroke-width="3.3" stroke-linecap="butt" />
<line x1="1002.81" y1="935" x2="1002.81" y2="942" stroke="#000" stroke-width="3.3" stroke-linecap="butt" />
<line x1="1027.92" y1="935" x2="1027.92" y2="942" stroke="#000" stroke-width="3.3" stroke-linecap="butt" />
<line x1="1053.04" y1="935" x2="1053.04" y2="942" stroke="#000" stroke-width="3.3" stroke-linecap="butt" />
<line x1="1078.15" y1="935" x2="1078.15" y2="948" stroke="#000" stroke-width="3.3" stroke-linecap="butt" />
<line x1="1103.26" y1="935" x2="1103.26" y2="942" stroke="#000" stroke-width="3.3" stroke-linecap="butt" />
<line x1="1128.38" y1="935" x2="1128.38" y2="942" stroke="#000" stroke-width="3.3" stroke-linecap="butt" />
<line x1="1153.49" y1="935" x2="1153.49" y2="942" stroke="#000" stroke-width="3.3" stroke-linecap="butt" />
<line x1="1178.61" y1="935" x2="1178.61" y2="942" stroke="#000" stroke-width="3.3" stroke-linecap="butt" />
<line x1="1203.72" y1="935" x2="1203.72" y2="948" stroke="#000" stroke-width="3.3" stroke-linecap="butt" />
<line x1="1228.83" y1="935" x2="1228.83" y2="942" stroke="#000" stroke-width="3.3" stroke-linecap="butt" />
<line x1="1253.95" y1="935" x2="1253.95" y2="942" stroke="#000" stroke-width="3.3" stroke-linecap="butt" />
<line x1="1279.06" y1="935" x2="1279.06" y2="942" stroke="#000" stroke-width="3.3" stroke-linecap="butt" />
<line x1="1304.18" y1="935" x2="1304.18" y2="942" stroke="#000" stroke-width="3.3" stroke-linecap="butt" />
<line x1="1329.29" y1="935" x2="1329.29" y2="948" stroke="#000" stroke-width="3.3" stroke-linecap="butt" />
<line x1="1354.4" y1="935" x2="1354.4" y2="942" stroke="#000" stroke-width="3.3" stroke-linecap="butt" />
<line x1="1379.52" y1="935" x2="1379.52" y2="942" stroke="#000" stroke-width="3.3" stroke-linecap="butt" />
<line x1="1404.63" y1="935" x2="1404.63" y2="942" stroke="#000" stroke-width="3.3" stroke-linecap="butt" />
<line x1="1429.75" y1="935" x2="1429.75" y2="942" stroke="#000" stroke-width="3.3" stroke-linecap="butt" />
<line x1="1454.86" y1="935" x2="1454.86" y2="948" stroke="#000" stroke-width="3.3" stroke-linecap="butt" />
<line x1="1479.97" y1="935" x2="1479.97" y2="942" stroke="#000" stroke-width="3.3" stroke-linecap="butt" />
<line x1="1505.09" y1="935" x2="1505.09" y2="942" stroke="#000" stroke-width="3.3" stroke-linecap="butt" />
<line x1="1530.2" y1="935" x2="1530.2" y2="942" stroke="#000" stroke-width="3.3" stroke-linecap="butt" />
<line x1="1555.32" y1="935" x2="1555.32" y2="942" stroke="#000" stroke-width="3.3" stroke-linecap="butt" />
<line x1="1580.43" y1="935" x2="1580.43" y2="948" stroke="#000" stroke-width="3.3" stroke-linecap="butt" />
<line x1="1605.54" y1="935" x2="1605.54" y2="942" stroke="#000" stroke-width="3.3" stroke-linecap="butt" />
<line x1="1630.66" y1="935" x2="1630.66" y2="942" stroke="#000" stroke-width="3.3" stroke-linecap="butt" />
<line x1="1655.77" y1="935" x2="1655.77" y2="942" stroke="#000" stroke-width="3.3" stroke-linecap="butt" />
<line x1="1680.89" y1="935" x2="1680.89" y2="942" stroke="#000" stroke-width="3.3" stroke-linecap="butt" />
<line x1="1706" y1="935" x2="1706" y2="948" stroke="#000" stroke-width="3.3" stroke-linecap="butt" />
<line x1="374.6" y1="1150.3" x2="1355.5" y2="1150.3" stroke="#000" stroke-width="3.3" stroke-linecap="square" />
<line x1="374.6" y1="1150.3" x2="374.6" y2="1163.3" stroke="#000" stroke-width="3.3" stroke-linecap="butt" />
<line x1="402.63" y1="1150.3" x2="402.63" y2="1157.3" stroke="#000" stroke-width="3.3" stroke-linecap="butt" />
<line x1="430.65" y1="1150.3" x2="430.65" y2="1157.3" stroke="#000" stroke-width="3.3" stroke-linecap="butt" />
<line x1="458.68" y1="1150.3" x2="458.68" y2="1157.3" stroke="#000" stroke-width="3.3" stroke-linecap="butt" />
<line x1="486.7" y1="1150.3" x2="486.7" y2="1157.3" stroke="#000" stroke-width="3.3" stroke-linecap="butt" />
<line x1="514.73" y1="1150.3" x2="514.73" y2="1163.3" stroke="#000" stroke-width="3.3" stroke-linecap="butt" />
<line x1="542.75" y1="1150.3" x2="542.75" y2="1157.3" stroke="#000" stroke-width="3.3" stroke-linecap="butt" />
<line x1="570.78" y1="1150.3" x2="570.78" y2="1157.3" stroke="#000" stroke-width="3.3" stroke-linecap="butt" />
<line x1="598.81" y1="1150.3" x2="598.81" y2="1157.3" stroke="#000" stroke-width="3.3" stroke-linecap="butt" />
<line x1="626.83" y1="1150.3" x2="626.83" y2="1157.3" stroke="#000" stroke-width="3.3" stroke-linecap="butt" />
<line x1="654.86" y1="1150.3" x2="654.86" y2="1163.3" stroke="#000" stroke-width="3.3" stroke-linecap="butt" />
<line x1="682.88" y1="1150.3" x2="682.88" y2="1157.3" stroke="#000" stroke-width="3.3" stroke-linecap="butt" />
<line x1="710.91" y1="1150.3" x2="710.91" y2="1157.3" stroke="#000" stroke-width="3.3" stroke-linecap="butt" />
<line x1="738.93" y1="1150.3" x2="738.93" y2="1157.3" stroke="#000" stroke-width="3.3" stroke-linecap="butt" />
<line x1="766.96" y1="1150.3" x2="766.96" y2="1157.3" stroke="#000" stroke-width="3.3" stroke-linecap="butt" />
<line x1="794.99" y1="1150.3" x2="794.99" y2="1163.3" stroke="#000" stroke-width="3.3" stroke-linecap="butt" />
<line x1="823.01" y1="1150.3" x2="823.01" y2="1157.3" stroke="#000" stroke-width="3.3" stroke-linecap="butt" />
<line x1="851.04" y1="1150.3" x2="851.04" y2="1157.3" stroke="#000" stroke-width="3.3" stroke-linecap="butt" />
<line x1="879.06" y1="1150.3" x2="879.06" y2="1157.3" stroke="#000" stroke-width="3.3" stroke-linecap="butt" />
<line x1="907.09" y1="1150.3" x2="907.09" y2="1157.3" stroke="#000" stroke-width="3.3" stroke-linecap="butt" />
<line x1="935.11" y1="1150.3" x2="935.11" y2="1163.3" stroke="#000" stroke-width="3.3" stroke-linecap="butt" />
<line x1="963.14" y1="1150.3" x2="963.14" y2="1157.3" stroke="#000" stroke-width="3.3" stroke-linecap="butt" />
<line x1="991.17" y1="1150.3" x2="991.17" y2="1157.3" stroke="#000" stroke-width="3.3" stroke-linecap="butt" />
<line x1="1019.19" y1="1150.3" x2="1019.19" y2="1157.3" stroke="#000" stroke-width="3.3" stroke-linecap="butt" />
<line x1="1047.22" y1="1150.3" x2="1047.22" y2="1157.3" stroke="#000" stroke-width="3.3" stroke-linecap="butt" />
<line x1="1075.24" y1="1150.3" x2="1075.24" y2="1163.3" stroke="#000" stroke-width="3.3" stroke-linecap="butt" />
<line x1="1103.27" y1="1150.3" x2="1103.27" y2="1157.3" stroke="#000" stroke-width="3.3" stroke-linecap="butt" />
<line x1="1131.29" y1="1150.3" x2="1131.29" y2="1157.3" stroke="#000" stroke-width="3.3" stroke-linecap="butt" />
<line x1="1159.32" y1="1150.3" x2="1159.32" y2="1157.3" stroke="#000" stroke-width="3.3" stroke-linecap="butt" />
<line x1="1187.35" y1="1150.3" x2="1187.35" y2="1157.3" stroke="#000" stroke-width="3.3" stroke-linecap="butt" />
<line x1="1215.37" y1="1150.3" x2="1215.37" y2="1163.3" stroke="#000" stroke-width="3.3" stroke-linecap="butt" />
<line x1="1243.4" y1="1150.3" x2="1243.4" y2="1157.3" stroke="#000" stroke-width="3.3" stroke-linecap="butt" />
<line x1="1271.42" y1="1150.3" x2="1271.42" y2="1157.3" stroke="#000" stroke-width="3.3" stroke-linecap="butt" />
<line x1="1299.45" y1="1150.3" x2="1299.45" y2="1157.3" stroke="#000" stroke-width="3.3" stroke-linecap="butt" />
<line x1="1327.47" y1="1150.3" x2="1327.47" y2="1157.3" stroke="#000" stroke-width="3.3" stroke-linecap="butt" />
<line x1="1355.5" y1="1150.3" x2="1355.5" y2="1163.3" stroke="#000" stroke-width="3.3" stroke-linecap="butt" />
<line x1="267.8" y1="1473" x2="1767" y2="1473" stroke="#000" stroke-width="3.3" stroke-linecap="square" />
<line x1="267.8" y1="1473" x2="267.8" y2="1486" stroke="#000" stroke-width="3.3" stroke-linecap="butt" />
<line x1="297.78" y1="1473" x2="297.78" y2="1481" stroke="#000" stroke-width="3.3" stroke-linecap="butt" />
<line x1="327.77" y1="1473" x2="327.77" y2="1481" stroke="#000" stroke-width="3.3" stroke-linecap="butt" />
<line x1="357.75" y1="1473" x2="357.75" y2="1481" stroke="#000" stroke-width="3.3" stroke-linecap="butt" />
<line x1="387.74" y1="1473" x2="387.74" y2="1481" stroke="#000" stroke-width="3.3" stroke-linecap="butt" />
<line x1="417.72" y1="1473" x2="417.72" y2="1486" stroke="#000" stroke-width="3.3" stroke-linecap="butt" />
<line x1="447.7" y1="1473" x2="447.7" y2="1481" stroke="#000" stroke-width="3.3" stroke-linecap="butt" />
<line x1="477.69" y1="1473" x2="477.69" y2="1481" stroke="#000" stroke-width="3.3" stroke-linecap="butt" />
<line x1="507.67" y1="1473" x2="507.67" y2="1481" stroke="#000" stroke-width="3.3" stroke-linecap="butt" />
<line x1="537.66" y1="1473" x2="537.66" y2="1481" stroke="#000" stroke-width="3.3" stroke-linecap="butt" />
<line x1="567.64" y1="1473" x2="567.64" y2="1486" stroke="#000" stroke-width="3.3" stroke-linecap="butt" />
<line x1="597.62" y1="1473" x2="597.62" y2="1481" stroke="#000" stroke-width="3.3" stroke-linecap="butt" />
<line x1="627.61" y1="1473" x2="627.61" y2="1481" stroke="#000" stroke-width="3.3" stroke-linecap="butt" />
<line x1="657.59" y1="1473" x2="657.59" y2="1481" stroke="#000" stroke-width="3.3" stroke-linecap="butt" />
<line x1="687.58" y1="1473" x2="687.58" y2="1481" stroke="#000" stroke-width="3.3" stroke-linecap="butt" />
<line x1="717.56" y1="1473" x2="717.56" y2="1486" stroke="#000" stroke-width="3.3" stroke-linecap="butt" />
<line x1="747.54" y1="1473" x2="747.54" y2="1481" stroke="#000" stroke-width="3.3" stroke-linecap="butt" />
<line x1="777.53" y1="1473" x2="777.53" y2="1481" stroke="#000" stroke-width="3.3" stroke-linecap="butt" />
<line x1="807.51" y1="1473" x2="807.51" y2="1481" stroke="#000" stroke-width="3.3" stroke-linecap="butt" />
<line x1="837.5" y1="1473" x2="837.5" y2="1481" stroke="#000" stroke-width="3.3" stroke-linecap="butt" />
<line x1="867.48" y1="1473" x2="867.48" y2="1486" stroke="#000" stroke-width="3.3" stroke-linecap="butt" />
<line x1="897.46" y1="1473" x2="897.46" y2="1481" stroke="#000" stroke-width="3.3" stroke-linecap="butt" />
<line x1="927.45" y1="1473" x2="927.45" y2="1481" stroke="#000" stroke-width="3.3" stroke-linecap="butt" />
<line x1="957.43" y1="1473" x2="957.43" y2="1481" stroke="#000" stroke-width="3.3" stroke-linecap="butt" />
<line x1="987.42" y1="1473" x2="987.42" y2="1481" stroke="#000" stroke-width="3.3" stroke-linecap="butt" />
<line x1="1017.4" y1="1473" x2="1017.4" y2="1486" stroke="#000" stroke-width="3.3" stroke-linecap="butt" />
<line x1="1047.38" y1="1473" x2="1047.38" y2="1481" stroke="#000" stroke-width="3.3" stroke-linecap="butt" />
<line x1="1077.37" y1="1473" x2="1077.37" y2="1481" stroke="#000" stroke-width="3.3" stroke-linecap="butt" />
<line x1="1107.35" y1="1473" x2="1107.35" y2="1481" stroke="#000" stroke-width="3.3" stroke-linecap="butt" />
<line x1="1137.34" y1="1473" x2="1137.34" y2="1481" stroke="#000" stroke-width="3.3" stroke-linecap="butt" />
<line x1="1167.32" y1="1473" x2="1167.32" y2="1486" stroke="#000" stroke-width="3.3" stroke-linecap="butt" />
<line x1="1197.3" y1="1473" x2="1197.3" y2="1481" stroke="#000" stroke-width="3.3" stroke-linecap="butt" />
<line x1="1227.29" y1="1473" x2="1227.29" y2="1481" stroke="#000" stroke-width="3.3" stroke-linecap="butt" />
<line x1="1257.27" y1="1473" x2="1257.27" y2="1481" stroke="#000" stroke-width="3.3" stroke-linecap="butt" />
<line x1="1287.26" y1="1473" x2="1287.26" y2="1481" stroke="#000" stroke-width="3.3" stroke-linecap="butt" />
<line x1="1317.24" y1="1473" x2="1317.24" y2="1486" stroke="#000" stroke-width="3.3" stroke-linecap="butt" />
<line x1="1347.22" y1="1473" x2="1347.22" y2="1481" stroke="#000" stroke-width="3.3" stroke-linecap="butt" />
<line x1="1377.21" y1="1473" x2="1377.21" y2="1481" stroke="#000" stroke-width="3.3" stroke-linecap="butt" />
<line x1="1407.19" y1="1473" x2="1407.19" y2="1481" stroke="#000" stroke-width="3.3" stroke-linecap="butt" />
<line x1="1437.18" y1="1473" x2="1437.18" y2="1481" stroke="#000" stroke-width="3.3" stroke-linecap="butt" />
<line x1="1467.16" y1="1473" x2="1467.16" y2="1486" stroke="#000" stroke-width="3.3" stroke-linecap="butt" />
<line x1="1497.14" y1="1473" x2="1497.14" y2="1481" stroke="#000" stroke-width="3.3" stroke-linecap="butt" />
<line x1="1527.13" y1="1473" x2="1527.13" y2="1481" stroke="#000" stroke-width="3.3" stroke-linecap="butt" />
<line x1="1557.11" y1="1473" x2="1557.11" y2="1481" stroke="#000" stroke-width="3.3" stroke-linecap="butt" />
<line x1="1587.1" y1="1473" x2="1587.1" y2="1481" stroke="#000" stroke-width="3.3" stroke-linecap="butt" />
<line x1="1617.08" y1="1473" x2="1617.08" y2="1486" stroke="#000" stroke-width="3.3" stroke-linecap="butt" />
<line x1="1647.06" y1="1473" x2="1647.06" y2="1481" stroke="#000" stroke-width="3.3" stroke-linecap="butt" />
<line x1="1677.05" y1="1473" x2="1677.05" y2="1481" stroke="#000" stroke-width="3.3" stroke-linecap="butt" />
<line x1="1707.03" y1="1473" x2="1707.03" y2="1481" stroke="#000" stroke-width="3.3" stroke-linecap="butt" />
<line x1="1737.02" y1="1473" x2="1737.02" y2="1481" stroke="#000" stroke-width="3.3" stroke-linecap="butt" />
<line x1="1767" y1="1473" x2="1767" y2="1486" stroke="#000" stroke-width="3.3" stroke-linecap="butt" />
<line x1="369.5" y1="1646.5" x2="1731" y2="1646.5" stroke="#000" stroke-width="3.5" stroke-linecap="square" />
<line x1="369.5" y1="1646.5" x2="369.5" y2="1659.5" stroke="#000" stroke-width="3" stroke-linecap="butt" />
<line x1="432" y1="1646.5" x2="432" y2="1659.5" stroke="#000" stroke-width="3" stroke-linecap="butt" />
<line x1="471" y1="1646.5" x2="471" y2="1659.5" stroke="#000" stroke-width="3" stroke-linecap="butt" />
<line x1="498" y1="1646.5" x2="498" y2="1659.5" stroke="#000" stroke-width="3" stroke-linecap="butt" />
<line x1="519" y1="1646.5" x2="519" y2="1659.5" stroke="#000" stroke-width="3" stroke-linecap="butt" />
<line x1="534" y1="1646.5" x2="534" y2="1659.5" stroke="#000" stroke-width="3" stroke-linecap="butt" />
<line x1="549" y1="1646.5" x2="549" y2="1659.5" stroke="#000" stroke-width="3" stroke-linecap="butt" />
<line x1="561.4" y1="1646.5" x2="561.4" y2="1659.5" stroke="#000" stroke-width="3" stroke-linecap="butt" />
<line x1="600" y1="1646.5" x2="600" y2="1659.5" stroke="#000" stroke-width="3" stroke-linecap="butt" />
<line x1="623.5" y1="1646.5" x2="623.5" y2="1659.5" stroke="#000" stroke-width="3" stroke-linecap="butt" />
<line x1="644" y1="1646.5" x2="644" y2="1659.5" stroke="#000" stroke-width="3" stroke-linecap="butt" />
<line x1="683" y1="1646.5" x2="683" y2="1659.5" stroke="#000" stroke-width="3" stroke-linecap="butt" />
<line x1="710.5" y1="1646.5" x2="710.5" y2="1659.5" stroke="#000" stroke-width="3" stroke-linecap="butt" />
<line x1="746.5" y1="1646.5" x2="746.5" y2="1659.5" stroke="#000" stroke-width="3" stroke-linecap="butt" />
<line x1="773.5" y1="1646.5" x2="773.5" y2="1659.5" stroke="#000" stroke-width="3" stroke-linecap="butt" />
<line x1="809" y1="1646.5" x2="809" y2="1659.5" stroke="#000" stroke-width="3" stroke-linecap="butt" />
<line x1="836" y1="1646.5" x2="836" y2="1659.5" stroke="#000" stroke-width="3" stroke-linecap="butt" />
<line x1="857.5" y1="1646.5" x2="857.5" y2="1659.5" stroke="#000" stroke-width="3" stroke-linecap="butt" />
<line x1="894" y1="1646.5" x2="894" y2="1659.5" stroke="#000" stroke-width="3" stroke-linecap="butt" />
<line x1="920" y1="1646.5" x2="920" y2="1659.5" stroke="#000" stroke-width="3" stroke-linecap="butt" />
<line x1="959" y1="1646.5" x2="959" y2="1659.5" stroke="#000" stroke-width="3" stroke-linecap="butt" />
<line x1="986" y1="1646.5" x2="986" y2="1659.5" stroke="#000" stroke-width="3" stroke-linecap="butt" />
<line x1="1021.5" y1="1646.5" x2="1021.5" y2="1659.5" stroke="#000" stroke-width="3" stroke-linecap="butt" />
<line x1="1049" y1="1646.5" x2="1049" y2="1659.5" stroke="#000" stroke-width="3" stroke-linecap="butt" />
<line x1="1070" y1="1646.5" x2="1070" y2="1659.5" stroke="#000" stroke-width="3" stroke-linecap="butt" />
<line x1="1105.5" y1="1646.5" x2="1105.5" y2="1659.5" stroke="#000" stroke-width="3" stroke-linecap="butt" />
<line x1="1132.5" y1="1646.5" x2="1132.5" y2="1659.5" stroke="#000" stroke-width="3" stroke-linecap="butt" />
<line x1="1169" y1="1646.5" x2="1169" y2="1659.5" stroke="#000" stroke-width="3" stroke-linecap="butt" />
<line x1="1195.5" y1="1646.5" x2="1195.5" y2="1659.5" stroke="#000" stroke-width="3" stroke-linecap="butt" />
<line x1="1234.5" y1="1646.5" x2="1234.5" y2="1659.5" stroke="#000" stroke-width="3" stroke-linecap="butt" />
<line x1="1261.5" y1="1646.5" x2="1261.5" y2="1659.5" stroke="#000" stroke-width="3" stroke-linecap="butt" />
<line x1="1279" y1="1646.5" x2="1279" y2="1659.5" stroke="#000" stroke-width="3" stroke-linecap="butt" />
<line x1="1318" y1="1646.5" x2="1318" y2="1659.5" stroke="#000" stroke-width="3" stroke-linecap="butt" />
<line x1="1345" y1="1646.5" x2="1345" y2="1659.5" stroke="#000" stroke-width="3" stroke-linecap="butt" />
<line x1="1381" y1="1646.5" x2="1381" y2="1659.5" stroke="#000" stroke-width="3" stroke-linecap="butt" />
<line x1="1408.5" y1="1646.5" x2="1408.5" y2="1659.5" stroke="#000" stroke-width="3" stroke-linecap="butt" />
<line x1="1447.5" y1="1646.5" x2="1447.5" y2="1659.5" stroke="#000" stroke-width="3" stroke-linecap="butt" />
<line x1="1471" y1="1646.5" x2="1471" y2="1659.5" stroke="#000" stroke-width="3" stroke-linecap="butt" />
<line x1="1492" y1="1646.5" x2="1492" y2="1659.5" stroke="#000" stroke-width="3" stroke-linecap="butt" />
<line x1="1530.7" y1="1646.5" x2="1530.7" y2="1659.5" stroke="#000" stroke-width="3" stroke-linecap="butt" />
<line x1="1558" y1="1646.5" x2="1558" y2="1659.5" stroke="#000" stroke-width="3" stroke-linecap="butt" />
<line x1="1593.7" y1="1646.5" x2="1593.7" y2="1659.5" stroke="#000" stroke-width="3" stroke-linecap="butt" />
<line x1="1608" y1="1646.5" x2="1608" y2="1659.5" stroke="#000" stroke-width="3" stroke-linecap="butt" />
<line x1="1621" y1="1646.5" x2="1621" y2="1659.5" stroke="#000" stroke-width="3" stroke-linecap="butt" />
<line x1="1628" y1="1646.5" x2="1628" y2="1659.5" stroke="#000" stroke-width="3" stroke-linecap="butt" />
<line x1="1642.5" y1="1646.5" x2="1642.5" y2="1659.5" stroke="#000" stroke-width="3" stroke-linecap="butt" />
<line x1="1653" y1="1646.5" x2="1653" y2="1659.5" stroke="#000" stroke-width="3" stroke-linecap="butt" />
<line x1="1664" y1="1646.5" x2="1664" y2="1659.5" stroke="#000" stroke-width="3" stroke-linecap="butt" />
<line x1="1668.6" y1="1646.5" x2="1668.6" y2="1659.5" stroke="#000" stroke-width="3" stroke-linecap="butt" />
<line x1="1678" y1="1646.5" x2="1678" y2="1659.5" stroke="#000" stroke-width="3" stroke-linecap="butt" />
<line x1="1684" y1="1646.5" x2="1684" y2="1659.5" stroke="#000" stroke-width="3" stroke-linecap="butt" />
<line x1="1689" y1="1646.5" x2="1689" y2="1659.5" stroke="#000" stroke-width="3" stroke-linecap="butt" />
<line x1="1693.6" y1="1646.5" x2="1693.6" y2="1659.5" stroke="#000" stroke-width="3" stroke-linecap="butt" />
<line x1="1700.7" y1="1646.5" x2="1700.7" y2="1659.5" stroke="#000" stroke-width="3" stroke-linecap="butt" />
<line x1="1706.7" y1="1646.5" x2="1706.7" y2="1659.5" stroke="#000" stroke-width="3" stroke-linecap="butt" />
<line x1="1715" y1="1646.5" x2="1715" y2="1659.5" stroke="#000" stroke-width="3" stroke-linecap="butt" />
<line x1="1731" y1="1646.5" x2="1731" y2="1659.5" stroke="#000" stroke-width="3" stroke-linecap="butt" />
<line x1="387" y1="1646.5" x2="387" y2="1653.5" stroke="#000" stroke-width="3" stroke-linecap="butt" />
<line x1="399" y1="1646.5" x2="399" y2="1653.5" stroke="#000" stroke-width="3" stroke-linecap="butt" />
<line x1="414" y1="1646.5" x2="414" y2="1653.5" stroke="#000" stroke-width="3" stroke-linecap="butt" />
<line x1="423" y1="1646.5" x2="423" y2="1653.5" stroke="#000" stroke-width="3" stroke-linecap="butt" />
<line x1="441" y1="1646.5" x2="441" y2="1653.5" stroke="#000" stroke-width="3" stroke-linecap="butt" />
<line x1="450" y1="1646.5" x2="450" y2="1653.5" stroke="#000" stroke-width="3" stroke-linecap="butt" />
<line x1="460" y1="1646.5" x2="460" y2="1653.5" stroke="#000" stroke-width="3" stroke-linecap="butt" />
<line x1="465" y1="1646.5" x2="465" y2="1653.5" stroke="#000" stroke-width="3" stroke-linecap="butt" />
<line x1="478" y1="1646.5" x2="478" y2="1653.5" stroke="#000" stroke-width="3" stroke-linecap="butt" />
<line x1="483.5" y1="1646.5" x2="483.5" y2="1653.5" stroke="#000" stroke-width="3" stroke-linecap="butt" />
<line x1="490.5" y1="1646.5" x2="490.5" y2="1653.5" stroke="#000" stroke-width="3" stroke-linecap="butt" />
<line x1="507.5" y1="1646.5" x2="507.5" y2="1653.5" stroke="#000" stroke-width="3" stroke-linecap="butt" />
<line x1="513.5" y1="1646.5" x2="513.5" y2="1653.5" stroke="#000" stroke-width="3" stroke-linecap="butt" />
<line x1="573" y1="1646.5" x2="573" y2="1653.5" stroke="#000" stroke-width="3" stroke-linecap="butt" />
<line x1="582" y1="1646.5" x2="582" y2="1653.5" stroke="#000" stroke-width="3" stroke-linecap="butt" />
<line x1="591" y1="1646.5" x2="591" y2="1653.5" stroke="#000" stroke-width="3" stroke-linecap="butt" />
<line x1="608" y1="1646.5" x2="608" y2="1653.5" stroke="#000" stroke-width="3" stroke-linecap="butt" />
<line x1="614.5" y1="1646.5" x2="614.5" y2="1653.5" stroke="#000" stroke-width="3" stroke-linecap="butt" />
<line x1="632.5" y1="1646.5" x2="632.5" y2="1653.5" stroke="#000" stroke-width="3" stroke-linecap="butt" />
<line x1="653" y1="1646.5" x2="653" y2="1653.5" stroke="#000" stroke-width="3" stroke-linecap="butt" />
<line x1="662" y1="1646.5" x2="662" y2="1653.5" stroke="#000" stroke-width="3" stroke-linecap="butt" />
<line x1="670" y1="1646.5" x2="670" y2="1653.5" stroke="#000" stroke-width="3" stroke-linecap="butt" />
<line x1="677" y1="1646.5" x2="677" y2="1653.5" stroke="#000" stroke-width="3" stroke-linecap="butt" />
<line x1="694" y1="1646.5" x2="694" y2="1653.5" stroke="#000" stroke-width="3" stroke-linecap="butt" />
<line x1="704" y1="1646.5" x2="704" y2="1653.5" stroke="#000" stroke-width="3" stroke-linecap="butt" />
<line x1="718" y1="1646.5" x2="718" y2="1653.5" stroke="#000" stroke-width="3" stroke-linecap="butt" />
<line x1="725" y1="1646.5" x2="725" y2="1653.5" stroke="#000" stroke-width="3" stroke-linecap="butt" />
<line x1="734" y1="1646.5" x2="734" y2="1653.5" stroke="#000" stroke-width="3" stroke-linecap="butt" />
<line x1="740" y1="1646.5" x2="740" y2="1653.5" stroke="#000" stroke-width="3" stroke-linecap="butt" />
<line x1="752" y1="1646.5" x2="752" y2="1653.5" stroke="#000" stroke-width="3" stroke-linecap="butt" />
<line x1="760" y1="1646.5" x2="760" y2="1653.5" stroke="#000" stroke-width="3" stroke-linecap="butt" />
<line x1="766.5" y1="1646.5" x2="766.5" y2="1653.5" stroke="#000" stroke-width="3" stroke-linecap="butt" />
<line x1="782" y1="1646.5" x2="782" y2="1653.5" stroke="#000" stroke-width="3" stroke-linecap="butt" />
<line x1="794.5" y1="1646.5" x2="794.5" y2="1653.5" stroke="#000" stroke-width="3" stroke-linecap="butt" />
<line x1="803" y1="1646.5" x2="803" y2="1653.5" stroke="#000" stroke-width="3" stroke-linecap="butt" />
<line x1="816" y1="1646.5" x2="816" y2="1653.5" stroke="#000" stroke-width="3" stroke-linecap="butt" />
<line x1="823" y1="1646.5" x2="823" y2="1653.5" stroke="#000" stroke-width="3" stroke-linecap="butt" />
<line x1="829" y1="1646.5" x2="829" y2="1653.5" stroke="#000" stroke-width="3" stroke-linecap="butt" />
<line x1="840" y1="1646.5" x2="840" y2="1653.5" stroke="#000" stroke-width="3" stroke-linecap="butt" />
<line x1="849" y1="1646.5" x2="849" y2="1653.5" stroke="#000" stroke-width="3" stroke-linecap="butt" />
<line x1="864" y1="1646.5" x2="864" y2="1653.5" stroke="#000" stroke-width="3" stroke-linecap="butt" />
<line x1="874" y1="1646.5" x2="874" y2="1653.5" stroke="#000" stroke-width="3" stroke-linecap="butt" />
<line x1="882" y1="1646.5" x2="882" y2="1653.5" stroke="#000" stroke-width="3" stroke-linecap="butt" />
<line x1="888" y1="1646.5" x2="888" y2="1653.5" stroke="#000" stroke-width="3" stroke-linecap="butt" />
<line x1="900" y1="1646.5" x2="900" y2="1653.5" stroke="#000" stroke-width="3" stroke-linecap="butt" />
<line x1="902" y1="1646.5" x2="902" y2="1653.5" stroke="#000" stroke-width="3" stroke-linecap="butt" />
<line x1="911" y1="1646.5" x2="911" y2="1653.5" stroke="#000" stroke-width="3" stroke-linecap="butt" />
<line x1="929" y1="1646.5" x2="929" y2="1653.5" stroke="#000" stroke-width="3" stroke-linecap="butt" />
<line x1="938" y1="1646.5" x2="938" y2="1653.5" stroke="#000" stroke-width="3" stroke-linecap="butt" />
<line x1="945" y1="1646.5" x2="945" y2="1653.5" stroke="#000" stroke-width="3" stroke-linecap="butt" />
<line x1="953" y1="1646.5" x2="953" y2="1653.5" stroke="#000" stroke-width="3" stroke-linecap="butt" />
<line x1="965" y1="1646.5" x2="965" y2="1653.5" stroke="#000" stroke-width="3" stroke-linecap="butt" />
<line x1="973" y1="1646.5" x2="973" y2="1653.5" stroke="#000" stroke-width="3" stroke-linecap="butt" />
<line x1="980" y1="1646.5" x2="980" y2="1653.5" stroke="#000" stroke-width="3" stroke-linecap="butt" />
<line x1="994" y1="1646.5" x2="994" y2="1653.5" stroke="#000" stroke-width="3" stroke-linecap="butt" />
<line x1="1004" y1="1646.5" x2="1004" y2="1653.5" stroke="#000" stroke-width="3" stroke-linecap="butt" />
<line x1="1013" y1="1646.5" x2="1013" y2="1653.5" stroke="#000" stroke-width="3" stroke-linecap="butt" />
<line x1="1029" y1="1646.5" x2="1029" y2="1653.5" stroke="#000" stroke-width="3" stroke-linecap="butt" />
<line x1="1037" y1="1646.5" x2="1037" y2="1653.5" stroke="#000" stroke-width="3" stroke-linecap="butt" />
<line x1="1044" y1="1646.5" x2="1044" y2="1653.5" stroke="#000" stroke-width="3" stroke-linecap="butt" />
<line x1="1056" y1="1646.5" x2="1056" y2="1653.5" stroke="#000" stroke-width="3" stroke-linecap="butt" />
<line x1="1062" y1="1646.5" x2="1062" y2="1653.5" stroke="#000" stroke-width="3" stroke-linecap="butt" />
<line x1="1079" y1="1646.5" x2="1079" y2="1653.5" stroke="#000" stroke-width="3" stroke-linecap="butt" />
<line x1="1085" y1="1646.5" x2="1085" y2="1653.5" stroke="#000" stroke-width="3" stroke-linecap="butt" />
<line x1="1092" y1="1646.5" x2="1092" y2="1653.5" stroke="#000" stroke-width="3" stroke-linecap="butt" />
<line x1="1098" y1="1646.5" x2="1098" y2="1653.5" stroke="#000" stroke-width="3" stroke-linecap="butt" />
<line x1="1112.7" y1="1646.5" x2="1112.7" y2="1653.5" stroke="#000" stroke-width="3" stroke-linecap="butt" />
<line x1="1121" y1="1646.5" x2="1121" y2="1653.5" stroke="#000" stroke-width="3" stroke-linecap="butt" />
<line x1="1141.5" y1="1646.5" x2="1141.5" y2="1653.5" stroke="#000" stroke-width="3" stroke-linecap="butt" />
<line x1="1149.7" y1="1646.5" x2="1149.7" y2="1653.5" stroke="#000" stroke-width="3" stroke-linecap="butt" />
<line x1="1157" y1="1646.5" x2="1157" y2="1653.5" stroke="#000" stroke-width="3" stroke-linecap="butt" />
<line x1="1163" y1="1646.5" x2="1163" y2="1653.5" stroke="#000" stroke-width="3" stroke-linecap="butt" />
<line x1="1175" y1="1646.5" x2="1175" y2="1653.5" stroke="#000" stroke-width="3" stroke-linecap="butt" />
<line x1="1186" y1="1646.5" x2="1186" y2="1653.5" stroke="#000" stroke-width="3" stroke-linecap="butt" />
<line x1="1207" y1="1646.5" x2="1207" y2="1653.5" stroke="#000" stroke-width="3" stroke-linecap="butt" />
<line x1="1217" y1="1646.5" x2="1217" y2="1653.5" stroke="#000" stroke-width="3" stroke-linecap="butt" />
<line x1="1225" y1="1646.5" x2="1225" y2="1653.5" stroke="#000" stroke-width="3" stroke-linecap="butt" />
<line x1="1241" y1="1646.5" x2="1241" y2="1653.5" stroke="#000" stroke-width="3" stroke-linecap="butt" />
<line x1="1249" y1="1646.5" x2="1249" y2="1653.5" stroke="#000" stroke-width="3" stroke-linecap="butt" />
<line x1="1255" y1="1646.5" x2="1255" y2="1653.5" stroke="#000" stroke-width="3" stroke-linecap="butt" />
<line x1="1270" y1="1646.5" x2="1270" y2="1653.5" stroke="#000" stroke-width="3" stroke-linecap="butt" />
<line x1="1288" y1="1646.5" x2="1288" y2="1653.5" stroke="#000" stroke-width="3" stroke-linecap="butt" />
<line x1="1297" y1="1646.5" x2="1297" y2="1653.5" stroke="#000" stroke-width="3" stroke-linecap="butt" />
<line x1="1307" y1="1646.5" x2="1307" y2="1653.5" stroke="#000" stroke-width="3" stroke-linecap="butt" />
<line x1="1312" y1="1646.5" x2="1312" y2="1653.5" stroke="#000" stroke-width="3" stroke-linecap="butt" />
<line x1="1324" y1="1646.5" x2="1324" y2="1653.5" stroke="#000" stroke-width="3" stroke-linecap="butt" />
<line x1="1330" y1="1646.5" x2="1330" y2="1653.5" stroke="#000" stroke-width="3" stroke-linecap="butt" />
<line x1="1338" y1="1646.5" x2="1338" y2="1653.5" stroke="#000" stroke-width="3" stroke-linecap="butt" />
<line x1="1354" y1="1646.5" x2="1354" y2="1653.5" stroke="#000" stroke-width="3" stroke-linecap="butt" />
<line x1="1361" y1="1646.5" x2="1361" y2="1653.5" stroke="#000" stroke-width="3" stroke-linecap="butt" />
<line x1="1369" y1="1646.5" x2="1369" y2="1653.5" stroke="#000" stroke-width="3" stroke-linecap="butt" />
<line x1="1375" y1="1646.5" x2="1375" y2="1653.5" stroke="#000" stroke-width="3" stroke-linecap="butt" />
<line x1="1387" y1="1646.5" x2="1387" y2="1653.5" stroke="#000" stroke-width="3" stroke-linecap="butt" />
<line x1="1394" y1="1646.5" x2="1394" y2="1653.5" stroke="#000" stroke-width="3" stroke-linecap="butt" />
<line x1="1400" y1="1646.5" x2="1400" y2="1653.5" stroke="#000" stroke-width="3" stroke-linecap="butt" />
<line x1="1420" y1="1646.5" x2="1420" y2="1653.5" stroke="#000" stroke-width="3" stroke-linecap="butt" />
<line x1="1429" y1="1646.5" x2="1429" y2="1653.5" stroke="#000" stroke-width="3" stroke-linecap="butt" />
<line x1="1438" y1="1646.5" x2="1438" y2="1653.5" stroke="#000" stroke-width="3" stroke-linecap="butt" />
<line x1="1453" y1="1646.5" x2="1453" y2="1653.5" stroke="#000" stroke-width="3" stroke-linecap="butt" />
<line x1="1460" y1="1646.5" x2="1460" y2="1653.5" stroke="#000" stroke-width="3" stroke-linecap="butt" />
<line x1="1465" y1="1646.5" x2="1465" y2="1653.5" stroke="#000" stroke-width="3" stroke-linecap="butt" />
<line x1="1476" y1="1646.5" x2="1476" y2="1653.5" stroke="#000" stroke-width="3" stroke-linecap="butt" />
<line x1="1482" y1="1646.5" x2="1482" y2="1653.5" stroke="#000" stroke-width="3" stroke-linecap="butt" />
<line x1="1502" y1="1646.5" x2="1502" y2="1653.5" stroke="#000" stroke-width="3" stroke-linecap="butt" />
<line x1="1510" y1="1646.5" x2="1510" y2="1653.5" stroke="#000" stroke-width="3" stroke-linecap="butt" />
<line x1="1518" y1="1646.5" x2="1518" y2="1653.5" stroke="#000" stroke-width="3" stroke-linecap="butt" />
<line x1="1523.6" y1="1646.5" x2="1523.6" y2="1653.5" stroke="#000" stroke-width="3" stroke-linecap="butt" />
<line x1="1537.8" y1="1646.5" x2="1537.8" y2="1653.5" stroke="#000" stroke-width="3" stroke-linecap="butt" />
<line x1="1543.8" y1="1646.5" x2="1543.8" y2="1653.5" stroke="#000" stroke-width="3" stroke-linecap="butt" />
<line x1="1552" y1="1646.5" x2="1552" y2="1653.5" stroke="#000" stroke-width="3" stroke-linecap="butt" />
<line x1="1566.4" y1="1646.5" x2="1566.4" y2="1653.5" stroke="#000" stroke-width="3" stroke-linecap="butt" />
<line x1="1572.3" y1="1646.5" x2="1572.3" y2="1653.5" stroke="#000" stroke-width="3" stroke-linecap="butt" />
<rect x="518" y="1645.0" width="44" height="9.5" fill="#000"/>
<rect x="507.5" y="1645.0" width="6" height="8.5" fill="#000"/>
<rect x="1580.5" y="1645.0" width="151.5" height="9" fill="#000"/>
<rect x="1722" y="1645.0" width="10.5" height="14" fill="#000"/>
<rect x="6" y="224" width="33" height="37.0" rx="2" fill="#0000ff"/>
<line x1="10.5" y1="255.5" x2="35.5" y2="255.5" stroke="#fff" stroke-width="3" stroke-linecap="round" />
<rect x="6" y="439.6" width="33" height="35.9" rx="2" fill="#0000ff"/>
<rect x="6" y="655" width="33" height="36.2" rx="2" fill="#0000ff"/>
<rect x="6" y="873.8" width="33" height="35.6" rx="2" fill="#0000ff"/>
<line x1="10.5" y1="905" x2="35.5" y2="905" stroke="#fff" stroke-width="3" stroke-linecap="round" />
<rect x="6" y="1089.2" width="33" height="35.7" rx="2" fill="#0000ff"/>
<rect x="6" y="1457" width="33" height="36.3" rx="2" fill="#0000ff"/>
<text transform="translate(945.63,30.93) scale(1.0237,1)" font-size="47.47" font-style="italic" font-weight="bold" fill="#000" stroke="#000" stroke-width="0" xml:space="preserve">nomogram</text>
<text transform="translate(59.66,86.54) scale(0.9726,1)" font-size="45.95" font-style="italic" font-weight="normal" fill="#000" stroke="#000" stroke-width="0.45" xml:space="preserve">Points</text>
<text transform="translate(57.88,237.7) scale(1.0200,1)" font-size="48.09" font-style="normal" font-weight="normal" fill="#000" stroke="#000" stroke-width="0.45" xml:space="preserve">Killip</text>
<text transform="translate(161.37,232.57) scale(1.0951,1)" font-size="42.57" font-style="normal" font-weight="normal" fill="#000" stroke="#000" stroke-width="0.45" xml:space="preserve">**</text>
<text transform="translate(58.55,453.51) scale(0.9312,1)" font-size="50.89" font-style="normal" font-weight="normal" fill="#000" stroke="#000" stroke-width="0.45" xml:space="preserve">Tyg</text>
<text transform="translate(134.66,449.56) scale(1.0571,1)" font-size="44.29" font-style="normal" font-weight="normal" fill="#000" stroke="#000" stroke-width="0.45" xml:space="preserve">***</text>
<text transform="translate(58.75,669) scale(0.9764,1)" font-size="50.28" font-style="normal" font-weight="normal" fill="#000" stroke="#000" stroke-width="0.45" xml:space="preserve">SCr</text>
<text transform="translate(143.56,663.58) scale(1.1071,1)" font-size="42.29" font-style="normal" font-weight="normal" fill="#000" stroke="#000" stroke-width="0.45" xml:space="preserve">***</text>
<text transform="translate(58.62,888.3) scale(0.9136,1)" font-size="51.74" font-style="normal" font-weight="normal" fill="#000" stroke="#000" stroke-width="0.45" xml:space="preserve">BMI</text>
<text transform="translate(141.17,883.16) scale(1.0451,1)" font-size="44.29" font-style="normal" font-weight="normal" fill="#000" stroke="#000" stroke-width="0.45" xml:space="preserve">***</text>
<text transform="translate(58.3,1102.91) scale(0.9859,1)" font-size="50.89" font-style="normal" font-weight="normal" fill="#000" stroke="#000" stroke-width="0.45" xml:space="preserve">Age</text>
<text transform="translate(147.07,1098.36) scale(1.0471,1)" font-size="44.29" font-style="normal" font-weight="normal" fill="#000" stroke="#000" stroke-width="0.45" xml:space="preserve">***</text>
<text transform="translate(60.68,1297.17) scale(1.0140,1)" font-size="46.81" font-style="italic" font-weight="bold" fill="#000" stroke="#000" stroke-width="0" xml:space="preserve">Total points</text>
<text transform="translate(87.98,1662.93) scale(1.0054,1)" font-size="44.15" font-style="italic" font-weight="normal" fill="#000" stroke="#000" stroke-width="0.45" xml:space="preserve">Odds( event )</text>
<text transform="translate(403.57,136.5) scale(0.9300,1)" font-size="45.80" font-style="normal" font-weight="normal" fill="#000" stroke="#000" stroke-width="0.45" xml:space="preserve">0</text>
<text transform="translate(523.96,136.5) scale(0.9300,1)" font-size="45.80" font-style="normal" font-weight="normal" fill="#000" stroke="#000" stroke-width="0.45" xml:space="preserve">10</text>
<text transform="translate(656.05,136.5) scale(0.9300,1)" font-size="45.80" font-style="normal" font-weight="normal" fill="#000" stroke="#000" stroke-width="0.45" xml:space="preserve">20</text>
<text transform="translate(786.51,136.5) scale(0.9300,1)" font-size="45.80" font-style="normal" font-weight="normal" fill="#000" stroke="#000" stroke-width="0.45" xml:space="preserve">30</text>
<text transform="translate(917.39,136.5) scale(0.9300,1)" font-size="45.80" font-style="normal" font-weight="normal" fill="#000" stroke="#000" stroke-width="0.45" xml:space="preserve">40</text>
<text transform="translate(1047.31,136.5) scale(0.9300,1)" font-size="45.80" font-style="normal" font-weight="normal" fill="#000" stroke="#000" stroke-width="0.45" xml:space="preserve">50</text>
<text transform="translate(1178.15,136.5) scale(0.9300,1)" font-size="45.80" font-style="normal" font-weight="normal" fill="#000" stroke="#000" stroke-width="0.45" xml:space="preserve">60</text>
<text transform="translate(1311.4,136.5) scale(0.9300,1)" font-size="45.80" font-style="normal" font-weight="normal" fill="#000" stroke="#000" stroke-width="0.45" xml:space="preserve">70</text>
<text transform="translate(1442.26,136.5) scale(0.9300,1)" font-size="45.80" font-style="normal" font-weight="normal" fill="#000" stroke="#000" stroke-width="0.45" xml:space="preserve">80</text>
<text transform="translate(1574.7,136.5) scale(0.9300,1)" font-size="45.80" font-style="normal" font-weight="normal" fill="#000" stroke="#000" stroke-width="0.45" xml:space="preserve">90</text>
<text transform="translate(1694.18,136.5) scale(0.9300,1)" font-size="45.80" font-style="normal" font-weight="normal" fill="#000" stroke="#000" stroke-width="0.45" xml:space="preserve">100</text>
<text transform="translate(854.07,329) scale(0.8750,1)" font-size="43.50" font-style="normal" font-weight="normal" fill="#000" stroke="#000" stroke-width="0.45" xml:space="preserve">1</text>
<text transform="translate(960.86,329) scale(0.8750,1)" font-size="43.50" font-style="normal" font-weight="normal" fill="#000" stroke="#000" stroke-width="0.45" xml:space="preserve">2.6</text>
<text transform="translate(813.04,544.6) scale(0.8750,1)" font-size="43.50" font-style="normal" font-weight="normal" fill="#000" stroke="#000" stroke-width="0.45" xml:space="preserve">0</text>
<text transform="translate(959.92,544.6) scale(0.8750,1)" font-size="43.50" font-style="normal" font-weight="normal" fill="#000" stroke="#000" stroke-width="0.45" xml:space="preserve">20</text>
<text transform="translate(1118.02,544.6) scale(0.8750,1)" font-size="43.50" font-style="normal" font-weight="normal" fill="#000" stroke="#000" stroke-width="0.45" xml:space="preserve">40</text>
<text transform="translate(1277.38,544.6) scale(0.8750,1)" font-size="43.50" font-style="normal" font-weight="normal" fill="#000" stroke="#000" stroke-width="0.45" xml:space="preserve">60</text>
<text transform="translate(699.84,763.3) scale(0.8750,1)" font-size="43.50" font-style="normal" font-weight="normal" fill="#000" stroke="#000" stroke-width="0.45" xml:space="preserve">0</text>
<text transform="translate(893.43,763.3) scale(0.8750,1)" font-size="43.50" font-style="normal" font-weight="normal" fill="#000" stroke="#000" stroke-width="0.45" xml:space="preserve">200</text>
<text transform="translate(1112.2,763.3) scale(0.8750,1)" font-size="43.50" font-style="normal" font-weight="normal" fill="#000" stroke="#000" stroke-width="0.45" xml:space="preserve">400</text>
<text transform="translate(1331.03,763.3) scale(0.8750,1)" font-size="43.50" font-style="normal" font-weight="normal" fill="#000" stroke="#000" stroke-width="0.45" xml:space="preserve">600</text>
<text transform="translate(1550.02,763.3) scale(0.8750,1)" font-size="43.50" font-style="normal" font-weight="normal" fill="#000" stroke="#000" stroke-width="0.45" xml:space="preserve">800</text>
<text transform="translate(1756.29,763.3) scale(0.8750,1)" font-size="43.50" font-style="normal" font-weight="normal" fill="#000" stroke="#000" stroke-width="0.45" xml:space="preserve">1000</text>
<text transform="translate(427.51,978.4) scale(0.8750,1)" font-size="43.50" font-style="normal" font-weight="normal" fill="#000" stroke="#000" stroke-width="0.45" xml:space="preserve">18</text>
<text transform="translate(553.65,978.4) scale(0.8750,1)" font-size="43.50" font-style="normal" font-weight="normal" fill="#000" stroke="#000" stroke-width="0.45" xml:space="preserve">20</text>
<text transform="translate(679.42,978.4) scale(0.8750,1)" font-size="43.50" font-style="normal" font-weight="normal" fill="#000" stroke="#000" stroke-width="0.45" xml:space="preserve">22</text>
<text transform="translate(804.6,978.4) scale(0.8750,1)" font-size="43.50" font-style="normal" font-weight="normal" fill="#000" stroke="#000" stroke-width="0.45" xml:space="preserve">24</text>
<text transform="translate(930.37,978.4) scale(0.8750,1)" font-size="43.50" font-style="normal" font-weight="normal" fill="#000" stroke="#000" stroke-width="0.45" xml:space="preserve">26</text>
<text transform="translate(1055.93,978.4) scale(0.8750,1)" font-size="43.50" font-style="normal" font-weight="normal" fill="#000" stroke="#000" stroke-width="0.45" xml:space="preserve">28</text>
<text transform="translate(1181.7,978.4) scale(0.8750,1)" font-size="43.50" font-style="normal" font-weight="normal" fill="#000" stroke="#000" stroke-width="0.45" xml:space="preserve">30</text>
<text transform="translate(1307.46,978.4) scale(0.8750,1)" font-size="43.50" font-style="normal" font-weight="normal" fill="#000" stroke="#000" stroke-width="0.45" xml:space="preserve">32</text>
<text transform="translate(1432.64,978.4) scale(0.8750,1)" font-size="43.50" font-style="normal" font-weight="normal" fill="#000" stroke="#000" stroke-width="0.45" xml:space="preserve">34</text>
<text transform="translate(1558.41,978.4) scale(0.8750,1)" font-size="43.50" font-style="normal" font-weight="normal" fill="#000" stroke="#000" stroke-width="0.45" xml:space="preserve">36</text>
<text transform="translate(1683.98,978.4) scale(0.8750,1)" font-size="43.50" font-style="normal" font-weight="normal" fill="#000" stroke="#000" stroke-width="0.45" xml:space="preserve">38</text>
<text transform="translate(351.79,1193.2) scale(0.8750,1)" font-size="43.50" font-style="normal" font-weight="normal" fill="#000" stroke="#000" stroke-width="0.45" xml:space="preserve">25</text>
<text transform="translate(492.1,1193.2) scale(0.8750,1)" font-size="43.50" font-style="normal" font-weight="normal" fill="#000" stroke="#000" stroke-width="0.45" xml:space="preserve">35</text>
<text transform="translate(632.61,1193.2) scale(0.8750,1)" font-size="43.50" font-style="normal" font-weight="normal" fill="#000" stroke="#000" stroke-width="0.45" xml:space="preserve">45</text>
<text transform="translate(772.36,1193.2) scale(0.8750,1)" font-size="43.50" font-style="normal" font-weight="normal" fill="#000" stroke="#000" stroke-width="0.45" xml:space="preserve">55</text>
<text transform="translate(912.3,1193.2) scale(0.8750,1)" font-size="43.50" font-style="normal" font-weight="normal" fill="#000" stroke="#000" stroke-width="0.45" xml:space="preserve">65</text>
<text transform="translate(1052.43,1193.2) scale(0.8750,1)" font-size="43.50" font-style="normal" font-weight="normal" fill="#000" stroke="#000" stroke-width="0.45" xml:space="preserve">75</text>
<text transform="translate(1192.75,1193.2) scale(0.8750,1)" font-size="43.50" font-style="normal" font-weight="normal" fill="#000" stroke="#000" stroke-width="0.45" xml:space="preserve">85</text>
<text transform="translate(1332.68,1193.2) scale(0.8750,1)" font-size="43.50" font-style="normal" font-weight="normal" fill="#000" stroke="#000" stroke-width="0.45" xml:space="preserve">95</text>
<text transform="translate(229.33,1519.6) scale(0.9300,1)" font-size="46.50" font-style="normal" font-weight="normal" fill="#000" stroke="#000" stroke-width="0.45" xml:space="preserve">100</text>
<text transform="translate(379.25,1519.6) scale(0.9300,1)" font-size="46.50" font-style="normal" font-weight="normal" fill="#000" stroke="#000" stroke-width="0.45" xml:space="preserve">120</text>
<text transform="translate(529.17,1519.6) scale(0.9300,1)" font-size="46.50" font-style="normal" font-weight="normal" fill="#000" stroke="#000" stroke-width="0.45" xml:space="preserve">140</text>
<text transform="translate(679.09,1519.6) scale(0.9300,1)" font-size="46.50" font-style="normal" font-weight="normal" fill="#000" stroke="#000" stroke-width="0.45" xml:space="preserve">160</text>
<text transform="translate(829.01,1519.6) scale(0.9300,1)" font-size="46.50" font-style="normal" font-weight="normal" fill="#000" stroke="#000" stroke-width="0.45" xml:space="preserve">180</text>
<text transform="translate(979.57,1519.6) scale(0.9300,1)" font-size="46.50" font-style="normal" font-weight="normal" fill="#000" stroke="#000" stroke-width="0.45" xml:space="preserve">200</text>
<text transform="translate(1129.49,1519.6) scale(0.9300,1)" font-size="46.50" font-style="normal" font-weight="normal" fill="#000" stroke="#000" stroke-width="0.45" xml:space="preserve">220</text>
<text transform="translate(1279.41,1519.6) scale(0.9300,1)" font-size="46.50" font-style="normal" font-weight="normal" fill="#000" stroke="#000" stroke-width="0.45" xml:space="preserve">240</text>
<text transform="translate(1429.33,1519.6) scale(0.9300,1)" font-size="46.50" font-style="normal" font-weight="normal" fill="#000" stroke="#000" stroke-width="0.45" xml:space="preserve">260</text>
<text transform="translate(1579.25,1519.6) scale(0.9300,1)" font-size="46.50" font-style="normal" font-weight="normal" fill="#000" stroke="#000" stroke-width="0.45" xml:space="preserve">280</text>
<text transform="translate(1729.39,1519.6) scale(0.9300,1)" font-size="46.50" font-style="normal" font-weight="normal" fill="#000" stroke="#000" stroke-width="0.45" xml:space="preserve">300</text>
<text transform="translate(311.78,1692.8) scale(0.9500,1)" font-size="45.00" font-style="normal" font-weight="normal" fill="#000" stroke="#000" stroke-width="0.45" xml:space="preserve">5e-05</text>
<text transform="translate(439.35,1692.8) scale(0.9500,1)" font-size="45.00" font-style="normal" font-weight="normal" fill="#000" stroke="#000" stroke-width="0.45" xml:space="preserve">2e-04</text>
<text transform="translate(564.57,1692.8) scale(0.9500,1)" font-size="45.00" font-style="normal" font-weight="normal" fill="#000" stroke="#000" stroke-width="0.45" xml:space="preserve">8e-04</text>
<text transform="translate(694.56,1692.8) scale(0.9500,1)" font-size="45.00" font-style="normal" font-weight="normal" fill="#000" stroke="#000" stroke-width="0.45" xml:space="preserve">0.003</text>
<text transform="translate(838.36,1692.8) scale(0.9500,1)" font-size="45.00" font-style="normal" font-weight="normal" fill="#000" stroke="#000" stroke-width="0.45" xml:space="preserve">0.015</text>
<text transform="translate(979.53,1692.8) scale(0.9500,1)" font-size="45.00" font-style="normal" font-weight="normal" fill="#000" stroke="#000" stroke-width="0.45" xml:space="preserve">0.06</text>
<text transform="translate(1137.79,1692.8) scale(0.9500,1)" font-size="45.00" font-style="normal" font-weight="normal" fill="#000" stroke="#000" stroke-width="0.45" xml:space="preserve">0.3</text>
<text transform="translate(1286.43,1692.8) scale(0.9500,1)" font-size="45.00" font-style="normal" font-weight="normal" fill="#000" stroke="#000" stroke-width="0.45" xml:space="preserve">1.5</text>
<text transform="translate(1433.03,1692.8) scale(0.9500,1)" font-size="45.00" font-style="normal" font-weight="normal" fill="#000" stroke="#000" stroke-width="0.45" xml:space="preserve">6</text>
<text transform="translate(1567.27,1692.8) scale(0.9500,1)" font-size="45.00" font-style="normal" font-weight="normal" fill="#000" stroke="#000" stroke-width="0.45" xml:space="preserve">30</text>
<text transform="translate(1666.45,1692.8) scale(0.9500,1)" font-size="45.00" font-style="normal" font-weight="normal" fill="#000" stroke="#000" stroke-width="0.45" xml:space="preserve">100</text>
<line x1="926.3" y1="501" x2="926.3" y2="88" stroke="#ff0000" stroke-width="4.6" stroke-linecap="round" stroke-dasharray="2.0 9.96" stroke-dashoffset="5.76"/>
<line x1="944" y1="285.5" x2="944" y2="88" stroke="#ff0000" stroke-width="4.6" stroke-linecap="round" stroke-dasharray="2.0 9.96" stroke-dashoffset="5.76"/>
<line x1="977.3" y1="1150.3" x2="977.3" y2="88" stroke="#ff0000" stroke-width="4.6" stroke-linecap="round" stroke-dasharray="2.0 9.96" stroke-dashoffset="5.76"/>
<line x1="1034" y1="716.7" x2="1034" y2="88" stroke="#ff0000" stroke-width="4.6" stroke-linecap="round" stroke-dasharray="2.0 9.96" stroke-dashoffset="5.76"/>
<line x1="1078.5" y1="935" x2="1078.5" y2="88" stroke="#ff0000" stroke-width="4.6" stroke-linecap="round" stroke-dasharray="2.0 9.96" stroke-dashoffset="5.76"/>
<path d="M926.3,77.1 L937.8,88.8 L926.3,100.5 L914.8,88.8 Z" fill="#ff0000" stroke="none" stroke-width="0" stroke-linejoin="round"/>
<path d="M944,77.1 L955.5,88.8 L944,100.5 L932.5,88.8 Z" fill="#ff0000" stroke="none" stroke-width="0" stroke-linejoin="round"/>
<path d="M977.3,77.1 L988.8,88.8 L977.3,100.5 L965.8,88.8 Z" fill="#ff0000" stroke="none" stroke-width="0" stroke-linejoin="round"/>
<path d="M1034,77.1 L1045.5,88.8 L1034,100.5 L1022.5,88.8 Z" fill="#ff0000" stroke="none" stroke-width="0" stroke-linejoin="round"/>
<path d="M1078.8,77.1 L1090.3,88.8 L1078.8,100.5 L1067.3,88.8 Z" fill="#ff0000" stroke="none" stroke-width="0" stroke-linejoin="round"/>
<path d="M944,274 L955.3,285.5 L944,297 L932.7,285.5 Z" fill="#ff0000" stroke="none" stroke-width="0" stroke-linejoin="round"/>
<path d="M926,489.5 L937.3,501 L926,512.5 L914.7,501 Z" fill="#ff0000" stroke="none" stroke-width="0" stroke-linejoin="round"/>
<path d="M1034,705.2 L1045.3,716.7 L1034,728.2 L1022.7,716.7 Z" fill="#ff0000" stroke="none" stroke-width="0" stroke-linejoin="round"/>
<path d="M1078.5,923.5 L1089.8,935 L1078.5,946.5 L1067.2,935 Z" fill="#ff0000" stroke="none" stroke-width="0" stroke-linejoin="round"/>
<path d="M977.5,1138.8 L988.8,1150.3 L977.5,1161.8 L966.2,1150.3 Z" fill="#ff0000" stroke="none" stroke-width="0" stroke-linejoin="round"/>
<line x1="1157.5" y1="1473.6" x2="1157.5" y2="1612" stroke="#ff0000" stroke-width="3.5" stroke-linecap="butt" />
<path d="M1137.2,1610.5 L1178.6,1611 L1157,1640.5 Z" fill="#ff0000" stroke="#ff0000" stroke-width="1.5" stroke-linejoin="round"/>
<line x1="1132.5" y1="1643.5" x2="1180" y2="1643.5" stroke="#ff0000" stroke-width="4" stroke-linecap="butt" />
<line x1="1134" y1="1628.5" x2="1134" y2="1668.5" stroke="#ff0000" stroke-width="4.5" stroke-linecap="round" />
<line x1="1178.4" y1="1628.5" x2="1178.4" y2="1668.5" stroke="#ff0000" stroke-width="4.5" stroke-linecap="round" />
<path d="M1157.5,1458.5 L1175.5,1474 L1157.5,1489.5 L1139.5,1474 Z" fill="#ff0000" stroke="none" stroke-width="0" stroke-linejoin="round"/>
<text transform="translate(1121.43,1466.02) scale(0.8934,1)" font-size="47.61" font-style="italic" font-weight="normal" fill="#ff0000" stroke="#ff0000" stroke-width="0.45" xml:space="preserve">219</text>
<text transform="translate(1021.67,1637.32) scale(0.8904,1)" font-size="48.45" font-style="italic" font-weight="normal" fill="#ff0000" stroke="#ff0000" stroke-width="0.45" xml:space="preserve">0.262</text>
</svg>
</body></html>
